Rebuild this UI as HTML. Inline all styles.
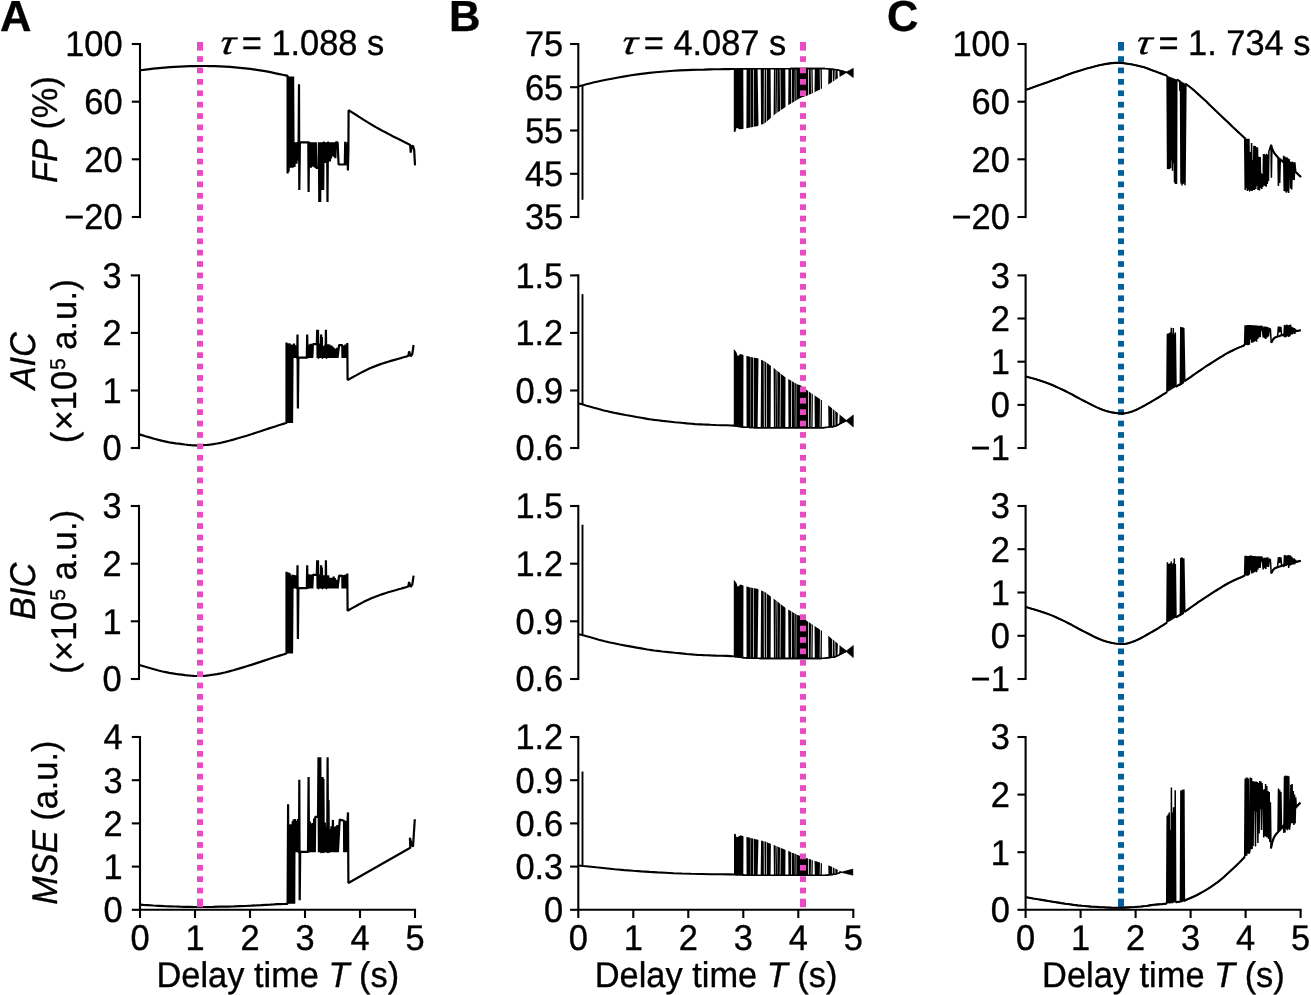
<!DOCTYPE html>
<html lang="en"><head><meta charset="utf-8"><title>Figure</title>
<style>html,body{margin:0;padding:0;background:#fff}svg{display:block}</style></head>
<body>
<svg width="1311" height="995" viewBox="0 0 1311 995" font-family="'Liberation Sans', sans-serif" font-size="34.4" fill="#000">
<style>text{text-rendering:geometricPrecision;stroke:#000;stroke-width:0.35px;stroke-linejoin:round}</style>
<rect width="1311" height="995" fill="#fff"/>
<g fill="#005f9e">
<rect x="1118" y="42" width="6" height="8.6"/>
<rect x="1118" y="56.2" width="6" height="5.7"/>
<rect x="1118" y="67.6" width="6" height="5.7"/>
<rect x="1118" y="79" width="6" height="5.7"/>
<rect x="1118" y="90.4" width="6" height="5.7"/>
<rect x="1118" y="101.8" width="6" height="5.7"/>
<rect x="1118" y="113.2" width="6" height="5.7"/>
<rect x="1118" y="124.5" width="6" height="5.7"/>
<rect x="1118" y="135.9" width="6" height="5.7"/>
<rect x="1118" y="147.3" width="6" height="5.7"/>
<rect x="1118" y="158.7" width="6" height="5.7"/>
<rect x="1118" y="170.1" width="6" height="5.7"/>
<rect x="1118" y="181.5" width="6" height="5.7"/>
<rect x="1118" y="192.9" width="6" height="5.7"/>
<rect x="1118" y="204.3" width="6" height="5.7"/>
<rect x="1118" y="215.7" width="6" height="5.7"/>
<rect x="1118" y="227.1" width="6" height="5.7"/>
<rect x="1118" y="238.4" width="6" height="5.7"/>
<rect x="1118" y="249.8" width="6" height="5.7"/>
<rect x="1118" y="261.2" width="6" height="5.7"/>
<rect x="1118" y="272.6" width="6" height="5.7"/>
<rect x="1118" y="284" width="6" height="5.7"/>
<rect x="1118" y="295.4" width="6" height="5.7"/>
<rect x="1118" y="306.8" width="6" height="5.7"/>
<rect x="1118" y="318.2" width="6" height="5.7"/>
<rect x="1118" y="329.6" width="6" height="5.7"/>
<rect x="1118" y="340.9" width="6" height="5.7"/>
<rect x="1118" y="352.3" width="6" height="5.7"/>
<rect x="1118" y="363.7" width="6" height="5.7"/>
<rect x="1118" y="375.1" width="6" height="5.7"/>
<rect x="1118" y="386.5" width="6" height="5.7"/>
<rect x="1118" y="397.9" width="6" height="5.7"/>
<rect x="1118" y="409.3" width="6" height="5.7"/>
<rect x="1118" y="420.7" width="6" height="5.7"/>
<rect x="1118" y="432.1" width="6" height="5.7"/>
<rect x="1118" y="443.5" width="6" height="5.7"/>
<rect x="1118" y="454.9" width="6" height="5.7"/>
<rect x="1118" y="466.2" width="6" height="5.7"/>
<rect x="1118" y="477.6" width="6" height="5.7"/>
<rect x="1118" y="489" width="6" height="5.7"/>
<rect x="1118" y="500.4" width="6" height="5.7"/>
<rect x="1118" y="511.8" width="6" height="5.7"/>
<rect x="1118" y="523.2" width="6" height="5.7"/>
<rect x="1118" y="534.6" width="6" height="5.7"/>
<rect x="1118" y="546" width="6" height="5.7"/>
<rect x="1118" y="557.4" width="6" height="5.7"/>
<rect x="1118" y="568.8" width="6" height="5.7"/>
<rect x="1118" y="580.1" width="6" height="5.7"/>
<rect x="1118" y="591.5" width="6" height="5.7"/>
<rect x="1118" y="602.9" width="6" height="5.7"/>
<rect x="1118" y="614.3" width="6" height="5.7"/>
<rect x="1118" y="625.7" width="6" height="5.7"/>
<rect x="1118" y="637.1" width="6" height="5.7"/>
<rect x="1118" y="648.5" width="6" height="5.7"/>
<rect x="1118" y="659.9" width="6" height="5.7"/>
<rect x="1118" y="671.3" width="6" height="5.7"/>
<rect x="1118" y="682.7" width="6" height="5.7"/>
<rect x="1118" y="694" width="6" height="5.7"/>
<rect x="1118" y="705.4" width="6" height="5.7"/>
<rect x="1118" y="716.8" width="6" height="5.7"/>
<rect x="1118" y="728.2" width="6" height="5.7"/>
<rect x="1118" y="739.6" width="6" height="5.7"/>
<rect x="1118" y="751" width="6" height="5.7"/>
<rect x="1118" y="762.4" width="6" height="5.7"/>
<rect x="1118" y="773.8" width="6" height="5.7"/>
<rect x="1118" y="785.2" width="6" height="5.7"/>
<rect x="1118" y="796.6" width="6" height="5.7"/>
<rect x="1118" y="807.9" width="6" height="5.7"/>
<rect x="1118" y="819.3" width="6" height="5.7"/>
<rect x="1118" y="830.7" width="6" height="5.7"/>
<rect x="1118" y="842.1" width="6" height="5.7"/>
<rect x="1118" y="853.5" width="6" height="5.7"/>
<rect x="1118" y="864.9" width="6" height="5.7"/>
<rect x="1118" y="876.3" width="6" height="5.7"/>
<rect x="1118" y="887.7" width="6" height="5.7"/>
<rect x="1118" y="898.7" width="6" height="8.5"/>
</g>
<g id="curves">
<path d="M140 70.1 L143.3 69.8 L147.8 69.3 L153.1 68.7 L158.9 68.1 L164.7 67.6 L170 67.2 L175 66.9 L180 66.6 L185 66.4 L190 66.2 L195 66.1 L200 66 L205 66 L210 66.1 L215 66.2 L220 66.3 L225 66.6 L230 66.9 L235 67.3 L240.1 67.8 L245.2 68.3 L250.2 68.9 L255.1 69.6 L260 70.3 L265.1 71.2 L270.4 72.2 L275.7 73.3 L280.5 74.3 L284.6 75.2 L287.6 75.8 L287.6 173.4 L288.1 76.5 L288.6 171.8 L289.1 76.5 L289.6 165.5 L290.1 76.5 L290.6 167.7 L291.1 76.5 L291.6 167.8 L292.1 76.5 L292.6 167.7 L293.1 76.5 L293.6 166.1 L294 142.3 L294.5 167 L295 142.3 L295.5 163.2 L296 142.3 L296.5 163.6 L297 142.3 L297.5 160.5 L298 142.3 L298.6 142.3 L299 84.2 L299.3 190 L299.9 142.3 L308.3 142.3 L308.6 192 L309 142.3 L309.2 142.3 L309.8 167.3 L310.3 142.3 L310.9 167.7 L311.4 142.3 L312 165.9 L312.5 142.3 L313.1 166.5 L313.6 142.3 L314.2 167 L314.7 142.3 L315.3 167.8 L315.8 142.3 L316.2 168 L318.5 168 L318.9 142.3 L319.3 202 L319.8 145 L320.2 202 L320.6 142.3 L321.2 165 L321.8 142.3 L322.2 190 L322.7 142.3 L323.2 190 L323.6 142.3 L324 142.3 L324.6 160.4 L325.1 142.3 L325.7 162.9 L326.2 142.3 L326.8 161.9 L327.1 142.3 L327.5 202 L327.9 142.3 L328.2 142.3 L328.8 157.4 L329.3 142.3 L329.9 161.4 L330.4 142.3 L331 158.4 L331.5 142.3 L332.1 156.1 L332.6 142.3 L333.2 153.6 L333.7 142.3 L334.3 157 L334.8 142.3 L335.4 158.1 L335.8 142.3 L337.6 142.3 L338.6 164.5 L344.8 164.5 L345.2 141.8 L345.6 164.5 L347.3 164.5 L347.5 142.3 L347.9 170.5 L348.4 150 L348.6 110.2 L351.3 111.9 L355.1 114.3 L359.5 117.1 L364.2 120.1 L368.7 122.9 L372.6 125.2 L375.8 127.1 L378.7 128.7 L381.4 130.2 L384 131.6 L386.7 133 L389.7 134.6 L393.2 136.4 L397 138.3 L401 140.3 L404.8 142.2 L407.9 143.8 L410.2 144.9 L410.7 152.6 L411.6 146.5 L413 145.7 L414.2 150 L415 165.4" fill="none" stroke="#000" stroke-width="2.2" stroke-linejoin="bevel" />
<path d="M139.3 434.4 L141.9 435.1 L145.4 436.2 L149.6 437.4 L154.1 438.7 L158.5 439.9 L162.4 440.9 L165.9 441.6 L169.2 442.3 L172.5 442.8 L175.6 443.3 L178.8 443.7 L181.9 444.1 L185 444.5 L187.9 444.8 L190.9 445.1 L193.8 445.3 L196.8 445.4 L200 445.4 L203.3 445.2 L206.5 445 L209.9 444.6 L213.4 444.1 L217 443.5 L220.8 442.8 L224.8 441.9 L229.1 440.8 L233.4 439.6 L237.9 438.3 L242.3 437 L246.7 435.7 L251.2 434.3 L255.8 432.8 L260.5 431.3 L264.9 429.8 L269.1 428.4 L272.7 427.2 L275.9 426.2 L278.7 425.3 L281.2 424.5 L283.4 423.9 L285.1 423.3 L286.5 422.9 L286.5 342.6 L287 423 L287.5 343.6 L288 423 L288.5 343.7 L289 423 L289.5 343.2 L290 423 L290.5 344.5 L291 423 L291.5 344.5 L292 423 L292.5 357.9 L293 344.8 L293.5 357.9 L294 343.6 L294.5 357.9 L295 345.3 L295.5 357.9 L296 345.8 L296.5 357.9 L297.2 357.6 L297.5 334.6 L297.9 408.5 L298.4 357.6 L306.8 357.6 L307.2 334.6 L307.6 357.6 L307.9 357.9 L308.4 345 L309 357.9 L309.6 344.6 L310.1 357.9 L310.7 343.9 L311.2 357.9 L311.8 345.2 L312.3 357.9 L312.9 344.1 L313.4 344.2 L316.8 344.2 L317.2 329.7 L317.6 357.9 L318 329.7 L318.4 357.9 L318.6 357.9 L319.2 343.6 L319.7 357.9 L320.3 343.6 L320.8 357.9 L321.1 334.6 L321.5 357.9 L321.9 337 L322.3 357.9 L322.5 357.9 L323.1 346.1 L323.6 357.9 L324.2 346.1 L324.7 357.9 L325.3 344.8 L325.6 357.9 L325.9 329.7 L326.3 357.9 L326.5 357.9 L327.1 347.4 L327.6 357.9 L328.2 344.2 L328.7 357.9 L329.3 344.6 L329.8 357.9 L330.4 345.9 L330.9 357.9 L331.5 345.5 L332 357.9 L332.6 346.7 L333.1 357.9 L333.7 347.8 L334.2 357.9 L334.8 348.8 L335.3 357.9 L335.9 349.1 L336.4 357.9 L337 347.9 L337.5 357.9 L339.1 345 L342.3 345.2 L342.5 357.9 L343.1 345.7 L343.6 357.9 L344.2 345.7 L344.7 357.9 L345.3 344.6 L345.8 357.9 L346.4 345.2 L346.9 357.9 L347.3 343 L347.6 380.1 L349.7 378.9 L352.6 377.3 L356.1 375.4 L359.7 373.4 L363.3 371.5 L366.5 369.9 L369.3 368.6 L372 367.4 L374.7 366.4 L377.3 365.4 L379.9 364.4 L382.5 363.5 L385.3 362.6 L388.1 361.7 L390.9 360.9 L393.7 360.1 L396.3 359.4 L398.6 358.7 L400.7 358.1 L402.7 357.5 L404.5 357 L406 356.6 L407.3 356.2 L408.3 355.9 L409.1 351.4 L410.7 356.3 L412.3 354 L413.6 345" fill="none" stroke="#000" stroke-width="2.2" stroke-linejoin="bevel" />
<path d="M139.3 665 L141.9 665.7 L145.4 666.8 L149.6 668 L154.1 669.3 L158.5 670.5 L162.4 671.5 L165.9 672.2 L169.2 672.9 L172.5 673.4 L175.6 673.9 L178.8 674.3 L181.9 674.7 L185 675.1 L187.9 675.4 L190.9 675.7 L193.8 675.9 L196.8 676 L200 676 L203.3 675.8 L206.5 675.6 L209.9 675.2 L213.4 674.7 L217 674.1 L220.8 673.4 L224.8 672.5 L229.1 671.4 L233.4 670.2 L237.9 668.9 L242.3 667.6 L246.7 666.3 L251.2 664.9 L255.8 663.4 L260.5 661.9 L264.9 660.4 L269.1 659 L272.7 657.8 L275.9 656.8 L278.7 655.9 L281.2 655.1 L283.4 654.5 L285.1 653.9 L286.5 653.5 L286.5 571.8 L287 653.6 L287.5 572.5 L288 653.6 L288.5 572.6 L289 653.6 L289.5 573.3 L290 653.6 L290.5 574.4 L291 653.6 L291.5 576.4 L292 653.6 L292.5 588.5 L293 574.7 L293.5 588.5 L294 575.1 L294.5 588.5 L295 576.5 L295.5 588.5 L296 575.4 L296.5 588.5 L297.2 588.2 L297.5 565.2 L297.9 639.1 L298.4 588.2 L306.8 588.2 L307.2 565.2 L307.6 588.2 L307.9 588.5 L308.4 574.4 L309 588.5 L309.6 574.8 L310.1 588.5 L310.7 574.5 L311.2 588.5 L311.8 576.2 L312.3 588.5 L312.9 574.5 L313.4 574.8 L316.8 574.8 L317.2 560.3 L317.6 588.5 L318 560.3 L318.4 588.5 L318.6 588.5 L319.2 574.2 L319.7 588.5 L320.3 574.2 L320.8 588.5 L321.1 565.2 L321.5 588.5 L321.9 567.6 L322.3 588.5 L322.5 588.5 L323.1 576.2 L323.6 588.5 L324.2 575.2 L324.7 588.5 L325.3 576.4 L325.6 588.5 L325.9 560.3 L326.3 588.5 L326.5 588.5 L327.1 577.5 L327.6 588.5 L328.2 575.2 L328.7 588.5 L329.3 578.4 L329.8 588.5 L330.4 577.8 L330.9 588.5 L331.5 578.1 L332 588.5 L332.6 577.7 L333.1 588.5 L333.7 576.5 L334.2 588.5 L334.8 578 L335.3 588.5 L335.9 580 L336.4 588.5 L337 579.7 L337.5 588.5 L339.1 575.6 L342.3 575.8 L342.5 588.5 L343.1 576.9 L343.6 588.5 L344.2 575.1 L344.7 588.5 L345.3 574.7 L345.8 588.5 L346.4 574.6 L346.9 588.5 L347.3 573.6 L347.6 610.7 L349.7 609.5 L352.6 607.9 L356.1 606 L359.7 604 L363.3 602.1 L366.5 600.5 L369.3 599.2 L372 598 L374.7 597 L377.3 596 L379.9 595 L382.5 594.1 L385.3 593.2 L388.1 592.3 L390.9 591.5 L393.7 590.7 L396.3 590 L398.6 589.3 L400.7 588.7 L402.7 588.1 L404.5 587.6 L406 587.2 L407.3 586.8 L408.3 586.5 L409.1 582 L410.7 586.9 L412.3 584.6 L413.6 575.6" fill="none" stroke="#000" stroke-width="2.2" stroke-linejoin="bevel" />
<path d="M140 904.7 L143.3 904.9 L147.8 905.1 L153.1 905.5 L158.9 905.8 L164.7 906.1 L170 906.3 L174.9 906.5 L179.6 906.7 L184.4 906.8 L189.3 906.9 L194.4 907 L200 907 L206.2 907 L213 906.9 L220 906.7 L227 906.6 L233.8 906.4 L240 906.2 L245.7 906 L251.2 905.7 L256.4 905.4 L261.3 905.1 L265.9 904.8 L270 904.6 L273.8 904.4 L277.3 904.2 L280.5 904.1 L283.2 904 L285.5 903.9 L287.2 903.8 L287.6 903.8 L288.1 804.3 L288.5 903.8 L288.7 825.2 L289.2 903.8 L289.7 824.4 L290.2 903.8 L290.7 824.3 L291.2 903.8 L291.7 824.3 L292.2 903.8 L292.7 821.2 L293.2 903.8 L293.7 819.4 L294.2 903.8 L294.4 852.2 L294.9 819.1 L295.4 852.2 L295.9 826.2 L296.4 852.2 L296.9 820.8 L297.4 852.2 L297.9 818.9 L298.4 852.2 L299 852 L299.3 779.8 L299.7 900.2 L300.2 851.9 L308 851.9 L308.6 777.1 L309 851.9 L309.2 852.2 L309.9 821.6 L310.6 852.2 L311.3 823.6 L312 852.2 L312.7 823.1 L313.4 852.2 L314.1 818.5 L314.8 852.2 L315.2 816.9 L318 816.9 L318.5 757.2 L318.9 852.2 L319.4 757.2 L319.8 852.2 L320.3 757.2 L320.7 852.2 L320.9 852.2 L321.4 819 L322 852.2 L322.2 852.2 L322.6 777 L323 852.2 L323.4 779 L323.8 852.2 L324 852.2 L324.8 822.5 L325.5 852.2 L326.2 826.6 L327 852.2 L327.2 852.2 L327.6 757.2 L328 852.2 L328.5 800 L328.9 852.2 L329.1 852.2 L329.9 829.2 L330.6 852.2 L331.4 826.3 L332.1 852.2 L332.9 819.9 L333.6 852.2 L334.4 827 L335.1 852.2 L335.9 826.4 L336.6 852.2 L337.4 825 L337.9 852.2 L339.7 819.6 L344 820.8 L344.2 852.2 L344.7 824 L345.2 852.2 L345.7 820.7 L346.2 852.2 L346.7 821.4 L347.2 852.2 L347.7 817.2 L348 812.4 L348.4 883 L410.3 847.7 L409.9 837.7 L411.2 843 L413 846.8 L414.8 819.3" fill="none" stroke="#000" stroke-width="2.2" stroke-linejoin="bevel" />
<path d="M582.5 85.3 L582.5 199.8" fill="none" stroke="#000" stroke-width="1.9" stroke-linejoin="bevel" />
<path d="M578.6 86.2 L583 85.2 L584.8 84.7 L587.1 84.1 L589.8 83.4 L593.1 82.6 L596.9 81.7 L601.2 80.8 L606.2 79.8 L611.9 78.7 L618.2 77.5 L624.7 76.4 L631.2 75.3 L637.4 74.4 L643.4 73.6 L649.4 72.9 L655.4 72.3 L661.5 71.7 L667.5 71.2 L673.5 70.8 L679.7 70.4 L686 70.1 L692.3 69.9 L698.5 69.7 L704.3 69.6 L709.7 69.4 L714.8 69.3 L719.7 69.2 L724.3 69.1 L728.4 69.1 L731.8 69 L734.3 69" fill="none" stroke="#000" stroke-width="2.1" stroke-linejoin="bevel" />
<path d="M734.6 69 L735.6 69 L736.6 69 L737.6 69 L738.6 69 L739.6 69 L740.6 69 L741.6 68.9 L742.6 68.9 L743.6 68.9 L744.6 68.9 L745.6 68.9 L746.6 68.9 L747.6 68.9 L748.6 68.9 L749.6 68.9 L750.6 68.9 L751.6 68.9 L752.6 68.9 L753.6 68.8 L754.6 68.8 L755.6 68.8 L756.6 68.8 L757.6 68.8 L758.6 68.8 L759.6 68.8 L760.6 68.8 L761.6 68.8 L762.6 68.8 L763.6 68.8 L764.6 68.8 L765.6 68.8 L766.6 68.8 L767.6 68.8 L768.6 68.8 L769.6 68.8 L770.6 68.7 L771.6 68.7 L772.6 68.7 L773.6 68.7 L774.6 68.7 L775.6 68.7 L776.6 68.7 L777.6 68.7 L778.6 68.7 L779.6 68.7 L780.6 68.7 L781.6 68.7 L782.6 68.7 L783.6 68.7 L784.6 68.7 L785.6 68.7 L786.6 68.7 L787.6 68.7 L788.6 68.7 L789.6 68.7 L790.6 68.6 L791.6 68.6 L792.6 68.6 L793.6 68.6 L794.6 68.6 L795.6 68.6 L796.6 68.6 L797.6 68.6 L798.6 68.6 L799.6 68.6 L800.6 68.6 L801.6 68.6 L802.6 68.6 L803.6 68.6 L804.6 68.6 L805.6 68.6 L806.6 68.6 L807.6 68.6 L808.6 68.6 L809.6 68.6 L810.6 68.6 L811.6 68.6 L812.6 68.6 L813.6 68.6 L814.6 68.6 L815.6 68.6 L816.6 68.6 L817.6 68.6 L818.6 68.6 L819.6 68.6 L820.6 68.6 L821.6 68.6 L822.6 68.6 L823.6 68.6 L824.6 68.6 L825.6 68.7 L826.6 68.8 L827.6 68.9 L828.6 69 L829.6 69.1 L830.6 69.2 L831.6 69.3 L832.6 69.4 L833.6 69.5 L834.6 69.6 L835.6 69.7 L836.6 69.8 L837.6 70 L838.6 70.2 L839.6 70.5 L840.6 70.8 L841.6 71 L842.6 71.3 L843.6 71.6 L844.6 71.9 L845.6 72.2 L845.9 72.3 L845.9 72.3 L845.6 72.5 L844.6 73.1 L843.6 73.6 L842.6 74.2 L841.6 74.8 L840.6 75.4 L839.6 76 L838.6 76.7 L837.6 77.4 L836.6 78 L835.6 78.7 L834.6 79.4 L833.6 80.1 L832.6 80.7 L831.6 81.4 L830.6 82.1 L829.6 82.7 L828.6 83.4 L827.6 84 L826.6 84.7 L825.6 85.3 L824.6 86 L823.6 86.6 L822.6 87.3 L821.6 87.9 L820.6 88.4 L819.6 88.9 L818.6 89.3 L817.6 89.8 L816.6 90.3 L815.6 90.8 L814.6 91.2 L813.6 91.7 L812.6 92.2 L811.6 92.7 L810.6 93.2 L809.6 93.6 L808.6 94.1 L807.6 94.5 L806.6 94.9 L805.6 95.2 L804.6 95.6 L803.6 95.9 L802.6 96.3 L801.6 96.6 L800.6 97 L799.6 97.4 L798.6 98 L797.6 98.6 L796.6 99.2 L795.6 99.8 L794.6 100.4 L793.6 101 L792.6 101.6 L791.6 102.2 L790.6 102.8 L789.6 103.4 L788.6 104 L787.6 104.6 L786.6 105.2 L785.6 105.9 L784.6 106.6 L783.6 107.3 L782.6 108 L781.6 108.7 L780.6 109.4 L779.6 110.1 L778.6 110.8 L777.6 111.4 L776.6 112.1 L775.6 112.8 L774.6 113.5 L773.6 114.2 L772.6 115.1 L771.6 116 L770.6 116.9 L769.6 117.9 L768.6 118.8 L767.6 119.7 L766.6 120.6 L765.6 121.5 L764.6 122.4 L763.6 123 L762.6 123.3 L761.6 123.7 L760.6 124.1 L759.6 124.4 L758.6 124.8 L757.6 125.2 L756.6 125.4 L755.6 125.6 L754.6 125.8 L753.6 126 L752.6 126.2 L751.6 126.4 L750.6 126.6 L749.6 126.8 L748.6 127 L747.6 127.2 L746.6 127.4 L745.6 127.5 L744.6 127.7 L743.6 127.9 L742.6 128.1 L741.6 128.3 L740.6 128.5 L739.6 128.5 L738.6 127.9 L737.6 127.4 L736.6 126.8 L735.6 128 L734.6 131.7Z" fill="#000" stroke="#000" stroke-width="1.6" stroke-linejoin="miter"/>
<path d="M845.9 72.3 L853.3 77.5 L853.3 68.3Z" fill="#000" stroke="#000" stroke-width="0.6" stroke-linejoin="miter"/>
<path d="M743.3 68.9 L746.6 68.9 L746.4 129 L743.5 129.6Z M750.4 68.9 L750.7 68.9 L751.1 128.2 L750.7 128.2Z M753.2 68.9 L753.9 68.8 L753.6 127.5 L753 127.7Z M757.6 68.8 L760.7 68.8 L761.1 125.6 L758.5 126.8Z M763.9 68.8 L764.7 68.8 L764.4 124 L763.7 124.4Z M766 68.8 L766.7 68.8 L767 122.1 L766.4 122.7Z M770.6 68.7 L773.9 68.7 L773.6 115.6 L770.9 118.5Z M775.5 68.7 L775.9 68.7 L776.3 114.2 L775.8 114.5Z M777.2 68.7 L777.5 68.7 L777.3 113.1 L776.9 113.3Z M779.7 68.7 L780.4 68.7 L780.7 111.1 L780.1 111.6Z M785.3 68.7 L788.5 68.7 L788.2 105.7 L785.5 107.7Z M791 68.6 L791.8 68.6 L792.1 103.7 L791.4 104.1Z M794.9 68.6 L795.3 68.6 L795.1 101.5 L794.6 101.8Z M796.4 68.6 L796.7 68.6 L797.1 100.7 L796.7 100.9Z M808.3 68.6 L809.1 68.6 L808.8 95.5 L808.1 95.8Z M810.7 68.6 L811.3 68.6 L811.6 94.4 L811.1 94.7Z M812.6 68.6 L814.8 68.6 L814.5 92.7 L812.9 93.8Z M819.7 68.6 L820.4 68.6 L820.8 90 L820 90.4Z M821.8 68.6 L828.5 69 L828.2 85 L822 89.4Z M832 69.3 L832.7 69.4 L833.1 82.2 L832.3 82.8Z M834.7 69.6 L835.5 69.7 L835.2 80.4 L834.5 80.9Z M837.5 69.9 L839.3 70.4 L839.6 77.8 L837.9 79Z" fill="#fff"/>
<path d="M734.6 69 L735.6 69 L736.6 69 L737.6 69 L738.6 69 L739.6 69 L740.6 69 L741.6 68.9 L742.6 68.9 L743.6 68.9 L744.6 68.9 L745.6 68.9 L746.6 68.9 L747.6 68.9 L748.6 68.9 L749.6 68.9 L750.6 68.9 L751.6 68.9 L752.6 68.9 L753.6 68.8 L754.6 68.8 L755.6 68.8 L756.6 68.8 L757.6 68.8 L758.6 68.8 L759.6 68.8 L760.6 68.8 L761.6 68.8 L762.6 68.8 L763.6 68.8 L764.6 68.8 L765.6 68.8 L766.6 68.8 L767.6 68.8 L768.6 68.8 L769.6 68.8 L770.6 68.7 L771.6 68.7 L772.6 68.7 L773.6 68.7 L774.6 68.7 L775.6 68.7 L776.6 68.7 L777.6 68.7 L778.6 68.7 L779.6 68.7 L780.6 68.7 L781.6 68.7 L782.6 68.7 L783.6 68.7 L784.6 68.7 L785.6 68.7 L786.6 68.7 L787.6 68.7 L788.6 68.7 L789.6 68.7 L790.6 68.6 L791.6 68.6 L792.6 68.6 L793.6 68.6 L794.6 68.6 L795.6 68.6 L796.6 68.6 L797.6 68.6 L798.6 68.6 L799.6 68.6 L800.6 68.6 L801.6 68.6 L802.6 68.6 L803.6 68.6 L804.6 68.6 L805.6 68.6 L806.6 68.6 L807.6 68.6 L808.6 68.6 L809.6 68.6 L810.6 68.6 L811.6 68.6 L812.6 68.6 L813.6 68.6 L814.6 68.6 L815.6 68.6 L816.6 68.6 L817.6 68.6 L818.6 68.6 L819.6 68.6 L820.6 68.6 L821.6 68.6 L822.6 68.6 L823.6 68.6 L824.6 68.6 L825.6 68.7 L826.6 68.8 L827.6 68.9 L828.6 69 L829.6 69.1 L830.6 69.2 L831.6 69.3 L832.6 69.4 L833.6 69.5 L834.6 69.6 L835.6 69.7 L836.6 69.8 L837.6 70 L838.6 70.2 L839.6 70.5 L840.6 70.8 L841.6 71 L842.6 71.3 L843.6 71.6 L844.6 71.9 L845.6 72.2 L845.9 72.3" fill="none" stroke="#000" stroke-width="1.6" stroke-linejoin="bevel" />
<path d="M582.5 404.5 L582.5 294.1" fill="none" stroke="#000" stroke-width="1.9" stroke-linejoin="bevel" />
<path d="M579 403.6 L583.1 404.6 L585.8 405.4 L589.5 406.4 L593.9 407.7 L598.8 409.1 L603.8 410.4 L608.8 411.6 L614 412.7 L619.7 413.9 L625.6 415 L631.4 416 L636.7 417 L641.3 417.8 L644.7 418.4 L647.3 418.9 L649.4 419.2 L651.4 419.5 L654 419.9 L657.6 420.3 L662.5 420.9 L668.4 421.5 L674.8 422.2 L681.1 422.8 L686.9 423.4 L691.7 423.8 L695.1 424.1 L697.5 424.3 L699.4 424.4 L701.2 424.4 L703.4 424.5 L706.4 424.6 L710.6 424.8 L715.8 425 L721.3 425.2 L726.6 425.3 L731.1 425.5 L734.3 425.6" fill="none" stroke="#000" stroke-width="2.1" stroke-linejoin="bevel" />
<path d="M734.6 425.8 L735.6 426 L736.6 426.1 L737.6 426.2 L738.6 426.4 L739.6 426.5 L740.6 426.6 L741.6 426.8 L742.6 426.9 L743.6 427 L744.6 427.1 L745.6 427.2 L746.6 427.3 L747.6 427.3 L748.6 427.3 L749.6 427.4 L750.6 427.4 L751.6 427.5 L752.6 427.5 L753.6 427.5 L754.6 427.6 L755.6 427.6 L756.6 427.7 L757.6 427.7 L758.6 427.7 L759.6 427.8 L760.6 427.8 L761.6 427.8 L762.6 427.8 L763.6 427.8 L764.6 427.8 L765.6 427.8 L766.6 427.8 L767.6 427.8 L768.6 427.8 L769.6 427.8 L770.6 427.8 L771.6 427.8 L772.6 427.8 L773.6 427.8 L774.6 427.8 L775.6 427.8 L776.6 427.8 L777.6 427.8 L778.6 427.8 L779.6 427.8 L780.6 427.8 L781.6 427.8 L782.6 427.8 L783.6 427.8 L784.6 427.8 L785.6 427.8 L786.6 427.8 L787.6 427.8 L788.6 427.8 L789.6 427.8 L790.6 427.8 L791.6 427.8 L792.6 427.8 L793.6 427.8 L794.6 427.8 L795.6 427.8 L796.6 427.8 L797.6 427.8 L798.6 427.8 L799.6 427.8 L800.6 427.8 L801.6 427.8 L802.6 427.8 L803.6 427.8 L804.6 427.8 L805.6 427.8 L806.6 427.8 L807.6 427.8 L808.6 427.8 L809.6 427.8 L810.6 427.8 L811.6 427.8 L812.6 427.8 L813.6 427.8 L814.6 427.8 L815.6 427.8 L816.6 427.8 L817.6 427.8 L818.6 427.8 L819.6 427.8 L820.6 427.8 L821.6 427.8 L822.6 427.7 L823.6 427.6 L824.6 427.5 L825.6 427.4 L826.6 427.3 L827.6 427.2 L828.6 427 L829.6 426.9 L830.6 426.8 L831.6 426.7 L832.6 426.6 L833.6 426.5 L834.6 426.3 L835.6 426 L836.6 425.5 L837.6 425 L838.6 424.5 L839.6 423.9 L840.6 423.4 L841.6 422.9 L842.6 422.4 L843.6 421.9 L844.6 421.4 L845.6 420.9 L845.9 420.7 L845.9 420.7 L845.6 420.5 L844.6 419.6 L843.6 418.8 L842.6 418 L841.6 417.2 L840.6 416.4 L839.6 415.5 L838.6 414.7 L837.6 413.9 L836.6 413.1 L835.6 412.3 L834.6 411.4 L833.6 410.6 L832.6 409.8 L831.6 409 L830.6 408.2 L829.6 407.3 L828.6 406.6 L827.6 405.8 L826.6 405 L825.6 404.2 L824.6 403.4 L823.6 402.6 L822.6 401.8 L821.6 401.1 L820.6 400.4 L819.6 399.7 L818.6 399.1 L817.6 398.4 L816.6 397.7 L815.6 397.1 L814.6 396.4 L813.6 395.7 L812.6 395.1 L811.6 394.4 L810.6 393.7 L809.6 393.1 L808.6 392.4 L807.6 391.7 L806.6 391 L805.6 390.2 L804.6 389.5 L803.6 388.8 L802.6 388 L801.6 387.3 L800.6 386.5 L799.6 385.8 L798.6 385.5 L797.6 385.2 L796.6 384.8 L795.6 384.3 L794.6 383.7 L793.6 383.1 L792.6 382.5 L791.6 381.9 L790.6 381.3 L789.6 380.7 L788.6 380.1 L787.6 379.6 L786.6 379 L785.6 378.4 L784.6 377.6 L783.6 376.9 L782.6 376.1 L781.6 375.3 L780.6 374.5 L779.6 373.7 L778.6 372.9 L777.6 372.1 L776.6 371.3 L775.6 370.5 L774.6 369.7 L773.6 369 L772.6 368.2 L771.6 367.5 L770.6 366.7 L769.6 366 L768.6 365.2 L767.6 364.5 L766.6 363.7 L765.6 363 L764.6 362.2 L763.6 361.7 L762.6 361.3 L761.6 360.8 L760.6 360.4 L759.6 360 L758.6 359.5 L757.6 359.1 L756.6 358.9 L755.6 358.7 L754.6 358.5 L753.6 358.4 L752.6 358.2 L751.6 358 L750.6 357.8 L749.6 357.6 L748.6 357.3 L747.6 357 L746.6 356.7 L745.6 356.4 L744.6 356.1 L743.6 355.8 L742.6 355.5 L741.6 355.2 L740.6 354.9 L739.6 355.7 L738.6 356.8 L737.6 358 L736.6 355.4 L735.6 352.5 L734.6 351.3Z" fill="#000" stroke="#000" stroke-width="1.6" stroke-linejoin="miter"/>
<path d="M845.9 420.7 L853.3 414.9 L853.3 427Z" fill="#000" stroke="#000" stroke-width="0.6" stroke-linejoin="miter"/>
<path d="M743.3 427 L746.6 427.3 L746.4 355.1 L743.5 354.1Z M750.4 427.4 L750.7 427.4 L751.1 356.2 L750.7 356.2Z M753.2 427.5 L753.9 427.6 L753.6 356.8 L753 356.7Z M757.6 427.7 L760.7 427.8 L761.1 358.8 L758.5 357.5Z M763.9 427.8 L764.7 427.8 L764.4 360.7 L763.7 360.2Z M766 427.8 L766.7 427.8 L767 362.2 L766.4 361.7Z M770.6 427.8 L773.9 427.8 L773.6 367.6 L770.9 365.1Z M775.5 427.8 L775.9 427.8 L776.3 369.2 L775.8 368.8Z M777.2 427.8 L777.5 427.8 L777.3 370.5 L776.9 370.2Z M779.7 427.8 L780.4 427.8 L780.7 372.7 L780.1 372.2Z M785.3 427.8 L788.5 427.8 L788.2 378.5 L785.5 376.6Z M791 427.8 L791.8 427.8 L792.1 380.4 L791.4 380Z M794.9 427.8 L795.3 427.8 L795.1 382.5 L794.6 382.2Z M796.4 427.8 L796.7 427.8 L797.1 383.3 L796.7 383.1Z M808.3 427.8 L809.1 427.8 L808.8 391.1 L808.1 390.6Z M810.7 427.8 L811.3 427.8 L811.6 392.6 L811.1 392.2Z M812.6 427.8 L814.8 427.8 L814.5 394.9 L812.9 393.5Z M819.7 427.8 L820.4 427.8 L820.8 398.7 L820 398.2Z M821.8 427.8 L828.5 427.1 L828.2 404.9 L822 399.6Z M832 426.7 L832.7 426.6 L833.1 408.3 L832.3 407.7Z M834.7 426.3 L835.5 426.1 L835.2 410.5 L834.5 410Z M837.5 425 L839.3 424.1 L839.6 413.7 L837.9 412.2Z" fill="#fff"/>
<path d="M734.6 425.8 L735.6 426 L736.6 426.1 L737.6 426.2 L738.6 426.4 L739.6 426.5 L740.6 426.6 L741.6 426.8 L742.6 426.9 L743.6 427 L744.6 427.1 L745.6 427.2 L746.6 427.3 L747.6 427.3 L748.6 427.3 L749.6 427.4 L750.6 427.4 L751.6 427.5 L752.6 427.5 L753.6 427.5 L754.6 427.6 L755.6 427.6 L756.6 427.7 L757.6 427.7 L758.6 427.7 L759.6 427.8 L760.6 427.8 L761.6 427.8 L762.6 427.8 L763.6 427.8 L764.6 427.8 L765.6 427.8 L766.6 427.8 L767.6 427.8 L768.6 427.8 L769.6 427.8 L770.6 427.8 L771.6 427.8 L772.6 427.8 L773.6 427.8 L774.6 427.8 L775.6 427.8 L776.6 427.8 L777.6 427.8 L778.6 427.8 L779.6 427.8 L780.6 427.8 L781.6 427.8 L782.6 427.8 L783.6 427.8 L784.6 427.8 L785.6 427.8 L786.6 427.8 L787.6 427.8 L788.6 427.8 L789.6 427.8 L790.6 427.8 L791.6 427.8 L792.6 427.8 L793.6 427.8 L794.6 427.8 L795.6 427.8 L796.6 427.8 L797.6 427.8 L798.6 427.8 L799.6 427.8 L800.6 427.8 L801.6 427.8 L802.6 427.8 L803.6 427.8 L804.6 427.8 L805.6 427.8 L806.6 427.8 L807.6 427.8 L808.6 427.8 L809.6 427.8 L810.6 427.8 L811.6 427.8 L812.6 427.8 L813.6 427.8 L814.6 427.8 L815.6 427.8 L816.6 427.8 L817.6 427.8 L818.6 427.8 L819.6 427.8 L820.6 427.8 L821.6 427.8 L822.6 427.7 L823.6 427.6 L824.6 427.5 L825.6 427.4 L826.6 427.3 L827.6 427.2 L828.6 427 L829.6 426.9 L830.6 426.8 L831.6 426.7 L832.6 426.6 L833.6 426.5 L834.6 426.3 L835.6 426 L836.6 425.5 L837.6 425 L838.6 424.5 L839.6 423.9 L840.6 423.4 L841.6 422.9 L842.6 422.4 L843.6 421.9 L844.6 421.4 L845.6 420.9 L845.9 420.7" fill="none" stroke="#000" stroke-width="1.6" stroke-linejoin="bevel" />
<path d="M582.5 635.1 L582.5 524.7" fill="none" stroke="#000" stroke-width="1.9" stroke-linejoin="bevel" />
<path d="M579 634.2 L583.1 635.2 L585.8 636 L589.5 637 L593.9 638.3 L598.8 639.7 L603.8 641 L608.8 642.2 L614 643.3 L619.7 644.5 L625.6 645.6 L631.4 646.6 L636.7 647.6 L641.3 648.4 L644.7 649 L647.3 649.5 L649.4 649.8 L651.4 650.1 L654 650.5 L657.6 650.9 L662.5 651.5 L668.4 652.1 L674.8 652.8 L681.1 653.4 L686.9 654 L691.7 654.4 L695.1 654.7 L697.5 654.9 L699.4 655 L701.2 655 L703.4 655.1 L706.4 655.2 L710.6 655.4 L715.8 655.6 L721.3 655.8 L726.6 655.9 L731.1 656.1 L734.3 656.2" fill="none" stroke="#000" stroke-width="2.1" stroke-linejoin="bevel" />
<path d="M734.6 656.4 L735.6 656.6 L736.6 656.7 L737.6 656.8 L738.6 657 L739.6 657.1 L740.6 657.2 L741.6 657.4 L742.6 657.5 L743.6 657.6 L744.6 657.7 L745.6 657.8 L746.6 657.9 L747.6 657.9 L748.6 657.9 L749.6 658 L750.6 658 L751.6 658.1 L752.6 658.1 L753.6 658.1 L754.6 658.2 L755.6 658.2 L756.6 658.3 L757.6 658.3 L758.6 658.3 L759.6 658.4 L760.6 658.4 L761.6 658.4 L762.6 658.4 L763.6 658.4 L764.6 658.4 L765.6 658.4 L766.6 658.4 L767.6 658.4 L768.6 658.4 L769.6 658.4 L770.6 658.4 L771.6 658.4 L772.6 658.4 L773.6 658.4 L774.6 658.4 L775.6 658.4 L776.6 658.4 L777.6 658.4 L778.6 658.4 L779.6 658.4 L780.6 658.4 L781.6 658.4 L782.6 658.4 L783.6 658.4 L784.6 658.4 L785.6 658.4 L786.6 658.4 L787.6 658.4 L788.6 658.4 L789.6 658.4 L790.6 658.4 L791.6 658.4 L792.6 658.4 L793.6 658.4 L794.6 658.4 L795.6 658.4 L796.6 658.4 L797.6 658.4 L798.6 658.4 L799.6 658.4 L800.6 658.4 L801.6 658.4 L802.6 658.4 L803.6 658.4 L804.6 658.4 L805.6 658.4 L806.6 658.4 L807.6 658.4 L808.6 658.4 L809.6 658.4 L810.6 658.4 L811.6 658.4 L812.6 658.4 L813.6 658.4 L814.6 658.4 L815.6 658.4 L816.6 658.4 L817.6 658.4 L818.6 658.4 L819.6 658.4 L820.6 658.4 L821.6 658.4 L822.6 658.3 L823.6 658.2 L824.6 658.1 L825.6 658 L826.6 657.9 L827.6 657.8 L828.6 657.6 L829.6 657.5 L830.6 657.4 L831.6 657.3 L832.6 657.2 L833.6 657.1 L834.6 656.9 L835.6 656.6 L836.6 656.1 L837.6 655.6 L838.6 655.1 L839.6 654.5 L840.6 654 L841.6 653.5 L842.6 653 L843.6 652.5 L844.6 652 L845.6 651.5 L845.9 651.3 L845.9 651.3 L845.6 651.1 L844.6 650.2 L843.6 649.4 L842.6 648.6 L841.6 647.8 L840.6 647 L839.6 646.1 L838.6 645.3 L837.6 644.5 L836.6 643.7 L835.6 642.9 L834.6 642 L833.6 641.2 L832.6 640.4 L831.6 639.6 L830.6 638.8 L829.6 637.9 L828.6 637.2 L827.6 636.4 L826.6 635.6 L825.6 634.8 L824.6 634 L823.6 633.2 L822.6 632.4 L821.6 631.7 L820.6 631 L819.6 630.3 L818.6 629.7 L817.6 629 L816.6 628.3 L815.6 627.7 L814.6 627 L813.6 626.3 L812.6 625.7 L811.6 625 L810.6 624.3 L809.6 623.7 L808.6 623 L807.6 622.3 L806.6 621.6 L805.6 620.8 L804.6 620.1 L803.6 619.4 L802.6 618.6 L801.6 617.9 L800.6 617.1 L799.6 616.4 L798.6 616.1 L797.6 615.8 L796.6 615.4 L795.6 614.9 L794.6 614.3 L793.6 613.7 L792.6 613.1 L791.6 612.5 L790.6 611.9 L789.6 611.3 L788.6 610.7 L787.6 610.2 L786.6 609.6 L785.6 609 L784.6 608.2 L783.6 607.5 L782.6 606.7 L781.6 605.9 L780.6 605.1 L779.6 604.3 L778.6 603.5 L777.6 602.7 L776.6 601.9 L775.6 601.1 L774.6 600.3 L773.6 599.6 L772.6 598.8 L771.6 598.1 L770.6 597.3 L769.6 596.6 L768.6 595.8 L767.6 595.1 L766.6 594.3 L765.6 593.6 L764.6 592.8 L763.6 592.3 L762.6 591.9 L761.6 591.4 L760.6 591 L759.6 590.6 L758.6 590.1 L757.6 589.7 L756.6 589.5 L755.6 589.3 L754.6 589.1 L753.6 589 L752.6 588.8 L751.6 588.6 L750.6 588.4 L749.6 588.2 L748.6 587.9 L747.6 587.6 L746.6 587.3 L745.6 587 L744.6 586.7 L743.6 586.4 L742.6 586.1 L741.6 585.8 L740.6 585.5 L739.6 586.3 L738.6 587.4 L737.6 588.6 L736.6 586 L735.6 583.1 L734.6 581.9Z" fill="#000" stroke="#000" stroke-width="1.6" stroke-linejoin="miter"/>
<path d="M845.9 651.3 L853.3 645.5 L853.3 657.6Z" fill="#000" stroke="#000" stroke-width="0.6" stroke-linejoin="miter"/>
<path d="M743.3 657.6 L746.6 657.9 L746.4 585.7 L743.5 584.7Z M750.4 658 L750.7 658 L751.1 586.8 L750.7 586.8Z M753.2 658.1 L753.9 658.2 L753.6 587.4 L753 587.3Z M757.6 658.3 L760.7 658.4 L761.1 589.4 L758.5 588.1Z M763.9 658.4 L764.7 658.4 L764.4 591.3 L763.7 590.8Z M766 658.4 L766.7 658.4 L767 592.8 L766.4 592.3Z M770.6 658.4 L773.9 658.4 L773.6 598.2 L770.9 595.7Z M775.5 658.4 L775.9 658.4 L776.3 599.8 L775.8 599.4Z M777.2 658.4 L777.5 658.4 L777.3 601.1 L776.9 600.8Z M779.7 658.4 L780.4 658.4 L780.7 603.3 L780.1 602.8Z M785.3 658.4 L788.5 658.4 L788.2 609.1 L785.5 607.2Z M791 658.4 L791.8 658.4 L792.1 611 L791.4 610.6Z M794.9 658.4 L795.3 658.4 L795.1 613.1 L794.6 612.8Z M796.4 658.4 L796.7 658.4 L797.1 613.9 L796.7 613.7Z M808.3 658.4 L809.1 658.4 L808.8 621.7 L808.1 621.2Z M810.7 658.4 L811.3 658.4 L811.6 623.2 L811.1 622.8Z M812.6 658.4 L814.8 658.4 L814.5 625.5 L812.9 624.1Z M819.7 658.4 L820.4 658.4 L820.8 629.3 L820 628.8Z M821.8 658.4 L828.5 657.6 L828.2 635.5 L822 630.2Z M832 657.3 L832.7 657.2 L833.1 638.9 L832.3 638.3Z M834.7 656.9 L835.5 656.7 L835.2 641.1 L834.5 640.6Z M837.5 655.6 L839.3 654.7 L839.6 644.3 L837.9 642.8Z" fill="#fff"/>
<path d="M734.6 656.4 L735.6 656.6 L736.6 656.7 L737.6 656.8 L738.6 657 L739.6 657.1 L740.6 657.2 L741.6 657.4 L742.6 657.5 L743.6 657.6 L744.6 657.7 L745.6 657.8 L746.6 657.9 L747.6 657.9 L748.6 657.9 L749.6 658 L750.6 658 L751.6 658.1 L752.6 658.1 L753.6 658.1 L754.6 658.2 L755.6 658.2 L756.6 658.3 L757.6 658.3 L758.6 658.3 L759.6 658.4 L760.6 658.4 L761.6 658.4 L762.6 658.4 L763.6 658.4 L764.6 658.4 L765.6 658.4 L766.6 658.4 L767.6 658.4 L768.6 658.4 L769.6 658.4 L770.6 658.4 L771.6 658.4 L772.6 658.4 L773.6 658.4 L774.6 658.4 L775.6 658.4 L776.6 658.4 L777.6 658.4 L778.6 658.4 L779.6 658.4 L780.6 658.4 L781.6 658.4 L782.6 658.4 L783.6 658.4 L784.6 658.4 L785.6 658.4 L786.6 658.4 L787.6 658.4 L788.6 658.4 L789.6 658.4 L790.6 658.4 L791.6 658.4 L792.6 658.4 L793.6 658.4 L794.6 658.4 L795.6 658.4 L796.6 658.4 L797.6 658.4 L798.6 658.4 L799.6 658.4 L800.6 658.4 L801.6 658.4 L802.6 658.4 L803.6 658.4 L804.6 658.4 L805.6 658.4 L806.6 658.4 L807.6 658.4 L808.6 658.4 L809.6 658.4 L810.6 658.4 L811.6 658.4 L812.6 658.4 L813.6 658.4 L814.6 658.4 L815.6 658.4 L816.6 658.4 L817.6 658.4 L818.6 658.4 L819.6 658.4 L820.6 658.4 L821.6 658.4 L822.6 658.3 L823.6 658.2 L824.6 658.1 L825.6 658 L826.6 657.9 L827.6 657.8 L828.6 657.6 L829.6 657.5 L830.6 657.4 L831.6 657.3 L832.6 657.2 L833.6 657.1 L834.6 656.9 L835.6 656.6 L836.6 656.1 L837.6 655.6 L838.6 655.1 L839.6 654.5 L840.6 654 L841.6 653.5 L842.6 653 L843.6 652.5 L844.6 652 L845.6 651.5 L845.9 651.3" fill="none" stroke="#000" stroke-width="1.6" stroke-linejoin="bevel" />
<path d="M582.5 866 L582.5 771.5" fill="none" stroke="#000" stroke-width="1.9" stroke-linejoin="bevel" />
<path d="M578.3 865.5 L583.1 866 L588.6 866.5 L596.1 867.3 L605.1 868.2 L614.7 869.2 L624.3 870.1 L633.2 870.8 L641.4 871.4 L649.4 871.9 L657.5 872.4 L665.5 872.8 L673.7 873.2 L682 873.5 L691.1 873.8 L701.2 874 L711.3 874.2 L720.8 874.3 L728.7 874.4 L734.5 874.5" fill="none" stroke="#000" stroke-width="2.1" stroke-linejoin="bevel" />
<path d="M734.8 874.5 L735.8 874.6 L736.8 874.6 L737.8 874.6 L738.8 874.7 L739.8 874.7 L740.8 874.8 L741.8 874.8 L742.8 874.9 L743.8 874.9 L744.8 875 L745.8 875 L746.8 875.1 L747.8 875.1 L748.8 875.1 L749.8 875.2 L750.8 875.2 L751.8 875.2 L752.8 875.2 L753.8 875.2 L754.8 875.2 L755.8 875.2 L756.8 875.2 L757.8 875.2 L758.8 875.2 L759.8 875.2 L760.8 875.2 L761.8 875.2 L762.8 875.2 L763.8 875.2 L764.8 875.2 L765.8 875.2 L766.8 875.2 L767.8 875.2 L768.8 875.2 L769.8 875.2 L770.8 875.2 L771.8 875.2 L772.8 875.2 L773.8 875.2 L774.8 875.2 L775.8 875.2 L776.8 875.2 L777.8 875.2 L778.8 875.2 L779.8 875.2 L780.8 875.2 L781.8 875.2 L782.8 875.2 L783.8 875.2 L784.8 875.2 L785.8 875.2 L786.8 875.2 L787.8 875.2 L788.8 875.2 L789.8 875.2 L790.8 875.2 L791.8 875.2 L792.8 875.2 L793.8 875.2 L794.8 875.2 L795.8 875.2 L796.8 875.2 L797.8 875.2 L798.8 875.2 L799.8 875.2 L800.8 875.2 L801.8 875.2 L802.8 875.2 L803.8 875.2 L804.8 875.2 L805.8 875.2 L806.8 875.2 L807.8 875.2 L808.8 875.2 L809.8 875.2 L810.8 875.2 L811.8 875.2 L812.8 875.2 L813.8 875.2 L814.8 875.2 L815.8 875.2 L816.8 875.2 L817.8 875.2 L818.8 875.2 L819.8 875.2 L820.8 875.2 L821.8 875.2 L822.8 875.2 L823.8 875.2 L824.8 875.2 L825.8 875.1 L826.8 875 L827.8 874.9 L828.8 874.8 L829.8 874.7 L830.8 874.6 L831.8 874.5 L832.8 874.4 L833.8 874.3 L834.8 874.2 L835.8 873.9 L836.8 873.6 L837.8 873.3 L838.8 872.9 L839.8 872.6 L840.7 872.3 L840.7 872.3 L839.8 871.8 L838.8 871.3 L837.8 870.8 L836.8 870.3 L835.8 869.8 L834.8 869.3 L833.8 868.8 L832.8 868.3 L831.8 867.8 L830.8 867.3 L829.8 866.8 L828.8 866.4 L827.8 866.1 L826.8 865.7 L825.8 865.4 L824.8 865 L823.8 864.7 L822.8 864.3 L821.8 864 L820.8 863.7 L819.8 863.3 L818.8 863 L817.8 862.7 L816.8 862.3 L815.8 862 L814.8 861.7 L813.8 861.3 L812.8 861 L811.8 860.7 L810.8 860.3 L809.8 860 L808.8 859.7 L807.8 859.4 L806.8 859 L805.8 858.7 L804.8 858.4 L803.8 858 L802.8 857.7 L801.8 857.4 L800.8 857 L799.8 856.7 L798.8 856.2 L797.8 855.8 L796.8 855.4 L795.8 855 L794.8 854.6 L793.8 854.2 L792.8 853.8 L791.8 853.4 L790.8 852.9 L789.8 852.5 L788.8 852.1 L787.8 851.7 L786.8 851.3 L785.8 850.9 L784.8 850.5 L783.8 850.1 L782.8 849.6 L781.8 849.2 L780.8 848.8 L779.8 848.4 L778.8 848 L777.8 847.6 L776.8 847.2 L775.8 846.8 L774.8 846.3 L773.8 845.9 L772.8 845.5 L771.8 845.1 L770.8 844.7 L769.8 844.3 L768.8 843.9 L767.8 843.5 L766.8 843 L765.8 842.6 L764.8 842.2 L763.8 842 L762.8 841.8 L761.8 841.5 L760.8 841.2 L759.8 841 L758.8 840.8 L757.8 840.5 L756.8 840.2 L755.8 840 L754.8 839.8 L753.8 839.5 L752.8 839.2 L751.8 839 L750.8 838.8 L749.8 838.5 L748.8 838.2 L747.8 838 L746.8 837.8 L745.8 837.5 L744.8 837.2 L743.8 837 L742.8 836.8 L741.8 836.5 L740.8 836.2 L739.8 836.7 L738.8 837.2 L737.8 837.8 L736.8 838 L735.8 838 L734.8 834Z" fill="#000" stroke="#000" stroke-width="1.6" stroke-linejoin="miter"/>
<path d="M840.7 872.3 L852.9 869.1 L852.9 875.2Z" fill="#000" stroke="#000" stroke-width="0.6" stroke-linejoin="miter"/>
<path d="M743.3 874.9 L746.6 875 L746.4 836.1 L743.5 835.3Z M750.4 875.2 L750.7 875.2 L751.1 837.1 L750.7 837Z M753.2 875.2 L753.9 875.2 L753.6 837.9 L753 837.8Z M757.6 875.2 L760.7 875.2 L761.1 839.6 L758.5 838.8Z M763.9 875.2 L764.7 875.2 L764.4 840.6 L763.7 840.4Z M766 875.2 L766.7 875.2 L767 841.4 L766.4 841.1Z M770.6 875.2 L773.9 875.2 L773.6 844.4 L770.9 843Z M775.5 875.2 L775.9 875.2 L776.3 845.2 L775.8 845Z M777.2 875.2 L777.5 875.2 L777.3 845.9 L776.9 845.7Z M779.7 875.2 L780.4 875.2 L780.7 847 L780.1 846.8Z M785.3 875.2 L788.5 875.2 L788.2 850.4 L785.5 849.1Z M791 875.2 L791.8 875.2 L792.1 851.7 L791.4 851.4Z M794.9 875.2 L795.3 875.2 L795.1 853.2 L794.6 853Z M796.4 875.2 L796.7 875.2 L797.1 853.8 L796.7 853.6Z M808.3 875.2 L809.1 875.2 L808.8 858.2 L808.1 857.9Z M810.7 875.2 L811.3 875.2 L811.6 858.9 L811.1 858.7Z M812.6 875.2 L814.8 875.2 L814.5 860.1 L812.9 859.3Z M819.7 875.2 L820.4 875.2 L820.8 861.9 L820 861.7Z M821.8 875.2 L828.5 874.9 L828.2 864.7 L822 862.4Z M832 874.5 L832.7 874.4 L833.1 866.7 L832.3 866.2Z M834.7 874.2 L835.5 874 L835.2 868 L834.5 867.7Z M837.5 873.4 L839.3 872.8 L839.6 870 L837.9 869.1Z" fill="#fff"/>
<path d="M734.8 874.5 L735.8 874.6 L736.8 874.6 L737.8 874.6 L738.8 874.7 L739.8 874.7 L740.8 874.8 L741.8 874.8 L742.8 874.9 L743.8 874.9 L744.8 875 L745.8 875 L746.8 875.1 L747.8 875.1 L748.8 875.1 L749.8 875.2 L750.8 875.2 L751.8 875.2 L752.8 875.2 L753.8 875.2 L754.8 875.2 L755.8 875.2 L756.8 875.2 L757.8 875.2 L758.8 875.2 L759.8 875.2 L760.8 875.2 L761.8 875.2 L762.8 875.2 L763.8 875.2 L764.8 875.2 L765.8 875.2 L766.8 875.2 L767.8 875.2 L768.8 875.2 L769.8 875.2 L770.8 875.2 L771.8 875.2 L772.8 875.2 L773.8 875.2 L774.8 875.2 L775.8 875.2 L776.8 875.2 L777.8 875.2 L778.8 875.2 L779.8 875.2 L780.8 875.2 L781.8 875.2 L782.8 875.2 L783.8 875.2 L784.8 875.2 L785.8 875.2 L786.8 875.2 L787.8 875.2 L788.8 875.2 L789.8 875.2 L790.8 875.2 L791.8 875.2 L792.8 875.2 L793.8 875.2 L794.8 875.2 L795.8 875.2 L796.8 875.2 L797.8 875.2 L798.8 875.2 L799.8 875.2 L800.8 875.2 L801.8 875.2 L802.8 875.2 L803.8 875.2 L804.8 875.2 L805.8 875.2 L806.8 875.2 L807.8 875.2 L808.8 875.2 L809.8 875.2 L810.8 875.2 L811.8 875.2 L812.8 875.2 L813.8 875.2 L814.8 875.2 L815.8 875.2 L816.8 875.2 L817.8 875.2 L818.8 875.2 L819.8 875.2 L820.8 875.2 L821.8 875.2 L822.8 875.2 L823.8 875.2 L824.8 875.2 L825.8 875.1 L826.8 875 L827.8 874.9 L828.8 874.8 L829.8 874.7 L830.8 874.6 L831.8 874.5 L832.8 874.4 L833.8 874.3 L834.8 874.2 L835.8 873.9 L836.8 873.6 L837.8 873.3 L838.8 872.9 L839.8 872.6 L840.7 872.3" fill="none" stroke="#000" stroke-width="1.6" stroke-linejoin="bevel" />
<path d="M1026.3 89.7 L1029.2 88.7 L1033.2 87.3 L1038 85.6 L1043.1 83.8 L1048.2 82 L1052.8 80.3 L1057.1 78.7 L1061.3 77.2 L1065.4 75.6 L1069.6 74 L1073.7 72.6 L1077.9 71.2 L1082.2 69.9 L1086.6 68.6 L1091 67.4 L1095.3 66.3 L1099.3 65.3 L1103.1 64.5 L1106.4 63.9 L1109.4 63.4 L1112.2 63.1 L1114.9 62.9 L1117.7 62.8 L1120.7 62.9 L1124 63.2 L1127.5 63.7 L1131.1 64.3 L1134.6 65 L1137.9 65.7 L1140.9 66.4 L1143.4 67.1 L1145.6 67.8 L1147.6 68.5 L1149.4 69.2 L1151.4 70 L1153.5 70.8 L1155.8 71.6 L1158 72.4 L1160.4 73.3 L1162.8 74.2 L1165.3 75.1 L1167.1 75.9 L1167.6 168.9 L1168.1 76.3 L1168.6 169.2 L1169.1 76.7 L1169.6 169 L1170.1 77.1 L1170.6 168 L1171 77.4 L1171.5 160.4 L1172 77.8 L1172.5 170.8 L1173 78.2 L1173.5 163.3 L1174 78.6 L1174.5 182.6 L1175 79 L1175.5 184 L1176 79.4 L1176.5 184 L1176.8 79.7 L1179.6 80.9 L1179.9 91 L1180.3 81.2 L1180.5 81.3 L1181 183.4 L1181.5 81.8 L1182 185.4 L1182.5 82.3 L1183 183.9 L1183.5 82.8 L1184 183.2 L1184.5 83.4 L1185 185.2 L1185.9 84.2 L1188.6 86 L1191.2 88 L1193.7 90.1 L1196.1 92.3 L1198.7 94.6 L1201.3 97 L1204.1 99.5 L1206.9 102.1 L1209.7 104.9 L1212.6 107.7 L1215.5 110.5 L1218.4 113.2 L1221.3 116 L1224.4 118.9 L1227.4 121.8 L1230.3 124.6 L1233 127.2 L1235.5 129.5 L1237.7 131.6 L1239.8 133.5 L1241.7 135.2 L1243.3 136.7 L1244.7 138 L1244.7 138.7 L1245.2 190.1 L1245.8 138.7 L1246.3 188.3 L1246.8 138.7 L1247.3 190.9 L1247.9 138.7 L1248.4 189.8 L1248.9 138.7 L1249.4 190.8 L1249.9 191 L1250.4 152 L1250.9 190.5 L1251.6 143.1 L1252.2 191 L1252.8 160 L1253.3 190 L1253.9 145.7 L1254.5 189.9 L1255.2 146 L1255.8 189 L1256.4 147 L1257 186 L1257.5 147.6 L1258 189.9 L1258.9 156.7 L1259.5 190.6 L1260.2 157 L1260.7 188 L1261.2 173.3 L1261.8 189 L1262.3 174 L1262.8 187 L1263.2 176 L1263.5 154 L1264 185.6 L1264.6 154 L1265.1 186.1 L1265.7 155 L1266.2 186.8 L1266.8 153.7 L1267.3 184.1 L1267.9 154.9 L1268.4 181.3 L1268.9 151.4 L1270.2 147 L1271 144.8 L1271.4 177.8 L1271.9 147.8 L1273 150.7 L1275 154 L1277 156.4 L1278 157.4 L1278.4 186.1 L1279 158.3 L1279.7 183 L1280.3 159.5 L1283.3 162 L1283.7 155.8 L1284.2 191 L1284.8 156.5 L1285.3 191.6 L1285.9 157.4 L1286.4 192.7 L1287 157.2 L1287.5 191.4 L1288.1 158.4 L1288.6 193.1 L1289.2 159 L1289.7 167.4 L1290.1 161.8 L1290.6 188.6 L1291.2 161.8 L1291.7 189.6 L1292.3 161.8 L1292.6 162.3 L1293.1 179.7 L1293.7 162.3 L1294.2 180.1 L1294.8 162.3 L1295.8 172.2 L1298 174.2 L1301 177" fill="none" stroke="#000" stroke-width="1.5" stroke-linejoin="bevel" />
<path d="M1026.3 89.7 L1029.2 88.7 L1033.2 87.3 L1038 85.6 L1043.1 83.8 L1048.2 82 L1052.8 80.3 L1057.1 78.7 L1061.3 77.2 L1065.4 75.6 L1069.6 74 L1073.7 72.6 L1077.9 71.2 L1082.2 69.9 L1086.6 68.6 L1091 67.4 L1095.3 66.3 L1099.3 65.3 L1103.1 64.5 L1106.4 63.9 L1109.4 63.4 L1112.2 63.1 L1114.9 62.9 L1117.7 62.8 L1120.7 62.9 L1124 63.2 L1127.5 63.7 L1131.1 64.3 L1134.6 65 L1137.9 65.7 L1140.9 66.4 L1143.4 67.1 L1145.6 67.8 L1147.6 68.5 L1149.4 69.2 L1151.4 70 L1153.5 70.8 L1155.8 71.6 L1158 72.4 L1160.4 73.3 L1162.8 74.2 L1165.3 75.1 L1167.1 75.9" fill="none" stroke="#000" stroke-width="2.1" stroke-linejoin="bevel" />
<path d="M1176.6 79.6 L1177.2 79.9 L1177.8 80.2 L1178.4 80.4 L1179 80.7 L1179.6 80.9" fill="none" stroke="#000" stroke-width="2.1" stroke-linejoin="bevel" />
<path d="M1185.1 83.7 L1185.9 84.2 L1188.6 86 L1191.2 88 L1193.7 90.1 L1196.1 92.3 L1198.7 94.6 L1201.3 97 L1204.1 99.5 L1206.9 102.1 L1209.7 104.9 L1212.6 107.7 L1215.5 110.5 L1218.4 113.2 L1221.3 116 L1224.4 118.9 L1227.4 121.8 L1230.3 124.6 L1233 127.2 L1235.5 129.5 L1237.7 131.6 L1239.8 133.5 L1241.7 135.2 L1243.3 136.7 L1244.7 138 L1245.7 138.9" fill="none" stroke="#000" stroke-width="2.1" stroke-linejoin="bevel" />
<path d="M1271 144.8 L1271.2 145.3 L1271.4 146.1 L1271.6 146.9 L1271.9 147.9 L1272.2 148.7 L1272.5 149.5 L1272.7 150.1 L1273 150.7 L1273.2 151.2 L1273.5 151.7 L1273.8 152.3 L1274.2 152.9 L1274.7 153.6 L1275.3 154.3 L1275.9 155.1 L1276.5 155.9 L1277.3 156.6 L1278 157.4 L1278.8 158.2 L1279.6 158.9 L1280.5 159.7 L1281.4 160.4 L1282.4 161.2 L1283.3 162 L1284.2 162.8 L1285.1 163.6 L1286.1 164.4 L1287 165.2 L1288 166 L1289 166.8 L1290 167.6 L1291.1 168.4 L1292.1 169.3 L1293.2 170.1 L1294.3 171 L1295.3 171.8 L1296.4 172.7 L1297.5 173.7 L1298.5 174.7 L1299.5 175.6 L1300.4 176.4 L1301 177" fill="none" stroke="#000" stroke-width="2.1" stroke-linejoin="bevel" />
<path d="M1026.3 376.5 L1028.5 377.2 L1031.6 378.1 L1035.2 379.1 L1039.1 380.3 L1043 381.6 L1046.5 382.8 L1049.7 384 L1052.9 385.3 L1056 386.7 L1059.1 388.1 L1062.2 389.5 L1065.3 391 L1068.4 392.6 L1071.6 394.2 L1074.7 396 L1077.9 397.7 L1081 399.4 L1084.2 401 L1087.4 402.6 L1090.5 404.2 L1093.7 405.9 L1096.9 407.4 L1100 408.7 L1103.1 409.9 L1106.2 410.9 L1109.2 411.7 L1112.2 412.4 L1115.2 412.9 L1118 413.2 L1120.7 413.4 L1123.2 413.4 L1125.4 413.2 L1127.6 412.8 L1129.7 412.2 L1132 411.5 L1134.6 410.5 L1137.5 409.2 L1140.7 407.6 L1144.1 405.8 L1147.4 403.9 L1150.6 402.1 L1153.5 400.4 L1156.1 398.9 L1158.4 397.5 L1160.6 396.1 L1162.8 394.7 L1165 393.3 L1166.9 392.1 L1167.4 333.8 L1167.9 391.5 L1168.4 333.4 L1168.9 390.9 L1169.4 332.9 L1169.9 390.3 L1170.4 332.2 L1170.8 389.8 L1171.3 327.7 L1171.8 389.2 L1172.3 333.4 L1172.8 388.6 L1173.3 328 L1173.8 388 L1174.3 334.2 L1174.8 387.4 L1175.3 332.6 L1176 386.7 L1178 385.5 L1180 384.2 L1180.3 385.5 L1180.8 326.9 L1181.3 384.9 L1181.8 327.3 L1182.3 384.2 L1182.8 327.3 L1183.3 383.6 L1183.8 328.1 L1184.8 381 L1187.5 379.2 L1190.2 377.3 L1192.9 375.4 L1195.6 373.5 L1198.3 371.6 L1201 369.8 L1203.6 368 L1206.3 366.2 L1209 364.5 L1211.6 362.8 L1214.3 361.1 L1217 359.4 L1219.7 357.7 L1222.4 356.1 L1225.1 354.4 L1227.8 352.9 L1230.4 351.5 L1233.1 350.2 L1235.9 348.9 L1238.7 347.6 L1241.2 346.6 L1243.3 345.7 L1244.6 344.3 L1245.1 325.2 L1245.7 345.1 L1246.2 325.5 L1246.8 345 L1247.3 325.1 L1247.9 345.3 L1248.4 325.1 L1249 344.8 L1249.4 342.8 L1249.9 325 L1250.5 339.5 L1251.1 325 L1251.7 342.8 L1252.3 325.2 L1252.9 342.5 L1253.6 325.4 L1254.2 341.7 L1254.8 325.4 L1255.4 341 L1256 325.6 L1256.6 341.7 L1257.2 325.6 L1257.8 339 L1258.4 325.7 L1259 337.4 L1259.6 325.7 L1260.2 337 L1260.8 325.7 L1261.4 331 L1262 325.9 L1262.6 331.5 L1263.2 337.5 L1263.9 326.5 L1264.5 338.2 L1265.2 326.5 L1265.8 338.9 L1266.5 326.9 L1267.1 337.4 L1267.8 327 L1268.4 336.4 L1269.4 328.2 L1270.4 329.1 L1271.2 342.8 L1272 341.2 L1273 339.5 L1275.4 337.4 L1277.6 336.6 L1278.4 326.6 L1279 332.5 L1279.6 326.6 L1280.3 332 L1280.9 326.8 L1281.6 335.3 L1283.6 334.7 L1283.9 336.7 L1284.5 325.1 L1285.1 337.4 L1285.7 325.4 L1286.3 337 L1286.9 324.5 L1287.5 336.3 L1288.1 325.2 L1288.7 337 L1289.3 325.1 L1289.9 336.2 L1290.5 324.5 L1291.2 334.4 L1291.8 326.9 L1292.4 334.5 L1293 327.5 L1293.6 333.3 L1294.2 328.1 L1294.8 333.8 L1295.4 328.9 L1296.3 331.2 L1298 330.8 L1300.7 330.2" fill="none" stroke="#000" stroke-width="1.5" stroke-linejoin="bevel" />
<path d="M1026.3 376.5 L1028.5 377.2 L1031.6 378.1 L1035.2 379.1 L1039.1 380.3 L1043 381.6 L1046.5 382.8 L1049.7 384 L1052.9 385.3 L1056 386.7 L1059.1 388.1 L1062.2 389.5 L1065.3 391 L1068.4 392.6 L1071.6 394.2 L1074.7 396 L1077.9 397.7 L1081 399.4 L1084.2 401 L1087.4 402.6 L1090.5 404.2 L1093.7 405.9 L1096.9 407.4 L1100 408.7 L1103.1 409.9 L1106.2 410.9 L1109.2 411.7 L1112.2 412.4 L1115.2 412.9 L1118 413.2 L1120.7 413.4 L1123.2 413.4 L1125.4 413.2 L1127.6 412.8 L1129.7 412.2 L1132 411.5 L1134.6 410.5 L1137.5 409.2 L1140.7 407.6 L1144.1 405.8 L1147.4 403.9 L1150.6 402.1 L1153.5 400.4 L1156.1 398.9 L1158.4 397.5 L1160.6 396.1 L1162.8 394.7 L1165 393.3 L1166.9 392.1" fill="none" stroke="#000" stroke-width="2.1" stroke-linejoin="bevel" />
<path d="M1175.8 386.8 L1176.4 386.4 L1177 386.1 L1177.6 385.7 L1178.2 385.3 L1178.8 385 L1179.4 384.6 L1180 384.2" fill="none" stroke="#000" stroke-width="2.1" stroke-linejoin="bevel" />
<path d="M1184.2 381.5 L1184.8 381 L1187.5 379.2 L1190.2 377.3 L1192.9 375.4 L1195.6 373.5 L1198.3 371.6 L1201 369.8 L1203.6 368 L1206.3 366.2 L1209 364.5 L1211.6 362.8 L1214.3 361.1 L1217 359.4 L1219.7 357.7 L1222.4 356.1 L1225.1 354.4 L1227.8 352.9 L1230.4 351.5 L1233.1 350.2 L1235.9 348.9 L1238.7 347.6 L1241.2 346.6 L1243.3 345.7 L1244.9 345" fill="none" stroke="#000" stroke-width="2.1" stroke-linejoin="bevel" />
<path d="M1271.2 342.8 L1271.4 342.4 L1271.6 341.9 L1272 341.3 L1272.3 340.6 L1272.6 340 L1273 339.5 L1273.3 339.1 L1273.6 338.7 L1274 338.4 L1274.4 338 L1274.8 337.7 L1275.4 337.4 L1276.1 337.1 L1276.8 336.8 L1277.6 336.5 L1278.5 336.3 L1279.6 336 L1280.7 335.6 L1282 335.2 L1283.5 334.7 L1285 334.2 L1286.6 333.7 L1288.3 333.2 L1290 332.7 L1291.8 332.2 L1293.9 331.7 L1295.9 331.3 L1297.9 330.8 L1299.5 330.5 L1300.7 330.2" fill="none" stroke="#000" stroke-width="2.1" stroke-linejoin="bevel" />
<path d="M1026.3 607.1 L1028.5 607.8 L1031.6 608.7 L1035.2 609.7 L1039.1 610.9 L1043 612.2 L1046.5 613.4 L1049.7 614.6 L1052.9 615.9 L1056 617.3 L1059.1 618.7 L1062.2 620.1 L1065.3 621.6 L1068.4 623.2 L1071.6 624.8 L1074.7 626.6 L1077.9 628.3 L1081 630 L1084.2 631.6 L1087.4 633.2 L1090.5 634.8 L1093.7 636.5 L1096.9 638 L1100 639.3 L1103.1 640.5 L1106.2 641.5 L1109.2 642.3 L1112.2 643 L1115.2 643.5 L1118 643.8 L1120.7 644 L1123.2 644 L1125.4 643.8 L1127.6 643.4 L1129.7 642.8 L1132 642.1 L1134.6 641.1 L1137.5 639.8 L1140.7 638.2 L1144.1 636.4 L1147.4 634.5 L1150.6 632.7 L1153.5 631 L1156.1 629.5 L1158.4 628.1 L1160.6 626.7 L1162.8 625.3 L1165 623.9 L1166.9 622.7 L1167.4 562.2 L1167.9 622.1 L1168.4 563.7 L1168.9 621.5 L1169.4 563.8 L1169.9 620.9 L1170.4 563.2 L1170.8 620.4 L1171.3 561.6 L1171.8 619.8 L1172.3 564.3 L1172.8 619.2 L1173.3 563.1 L1173.8 618.6 L1174.3 558.5 L1174.8 618 L1175.3 563.9 L1176 617.3 L1178 616.1 L1180 614.8 L1180.3 616.1 L1180.8 558.1 L1181.3 615.5 L1181.8 557.2 L1182.3 614.8 L1182.8 558.3 L1183.3 614.2 L1183.8 558.2 L1184.8 611.6 L1187.5 609.8 L1190.2 607.9 L1192.9 606 L1195.6 604.1 L1198.3 602.2 L1201 600.4 L1203.6 598.6 L1206.3 596.9 L1209 595.1 L1211.6 593.4 L1214.3 591.7 L1217 590 L1219.7 588.3 L1222.4 586.6 L1225.1 585 L1227.8 583.5 L1230.4 582.1 L1233.1 580.8 L1235.9 579.5 L1238.7 578.2 L1241.2 577.2 L1243.3 576.3 L1244.6 575.6 L1245.1 555.8 L1245.7 575.4 L1246.2 555.8 L1246.8 575.8 L1247.3 556 L1247.9 575.7 L1248.4 556.1 L1249 574.9 L1249.4 573.4 L1249.9 555.6 L1250.5 570.1 L1251.1 555.6 L1251.7 573.4 L1252.3 555.8 L1252.9 573.1 L1253.6 556 L1254.2 572.3 L1254.8 556 L1255.4 571.6 L1256 556.2 L1256.6 572.3 L1257.2 556.2 L1257.8 569.6 L1258.4 556.3 L1259 568 L1259.6 556.3 L1260.2 567.6 L1260.8 556.3 L1261.4 561.6 L1262 556.5 L1262.6 562.1 L1263.2 569.5 L1263.9 557.7 L1264.5 568.3 L1265.2 557.8 L1265.8 569 L1266.5 557.5 L1267.1 566.7 L1267.8 557.4 L1268.4 566.9 L1269.4 558.8 L1270.4 559.7 L1271.2 573.4 L1272 571.8 L1273 570.1 L1275.4 568 L1277.6 567.2 L1278.4 557.2 L1279 563.1 L1279.6 557.2 L1280.3 562.6 L1280.9 557.4 L1281.6 565.9 L1283.6 565.3 L1283.9 567 L1284.5 555 L1285.1 565.8 L1285.7 555.3 L1286.3 565.9 L1286.9 555.8 L1287.5 565 L1288.1 555.1 L1288.7 567.9 L1289.3 555.3 L1289.9 565.6 L1290.5 555.6 L1291.2 565 L1291.8 556.8 L1292.4 564.3 L1293 558.5 L1293.6 564.3 L1294.2 558.4 L1294.8 564.2 L1295.4 559.7 L1296.3 561.8 L1298 561.4 L1300.7 560.8" fill="none" stroke="#000" stroke-width="1.5" stroke-linejoin="bevel" />
<path d="M1026.3 607.1 L1028.5 607.8 L1031.6 608.7 L1035.2 609.7 L1039.1 610.9 L1043 612.2 L1046.5 613.4 L1049.7 614.6 L1052.9 615.9 L1056 617.3 L1059.1 618.7 L1062.2 620.1 L1065.3 621.6 L1068.4 623.2 L1071.6 624.8 L1074.7 626.6 L1077.9 628.3 L1081 630 L1084.2 631.6 L1087.4 633.2 L1090.5 634.8 L1093.7 636.5 L1096.9 638 L1100 639.3 L1103.1 640.5 L1106.2 641.5 L1109.2 642.3 L1112.2 643 L1115.2 643.5 L1118 643.8 L1120.7 644 L1123.2 644 L1125.4 643.8 L1127.6 643.4 L1129.7 642.8 L1132 642.1 L1134.6 641.1 L1137.5 639.8 L1140.7 638.2 L1144.1 636.4 L1147.4 634.5 L1150.6 632.7 L1153.5 631 L1156.1 629.5 L1158.4 628.1 L1160.6 626.7 L1162.8 625.3 L1165 623.9 L1166.9 622.7" fill="none" stroke="#000" stroke-width="2.1" stroke-linejoin="bevel" />
<path d="M1175.8 617.4 L1176.4 617 L1177 616.7 L1177.6 616.3 L1178.2 615.9 L1178.8 615.6 L1179.4 615.2 L1180 614.8" fill="none" stroke="#000" stroke-width="2.1" stroke-linejoin="bevel" />
<path d="M1184.2 612.1 L1184.8 611.6 L1187.5 609.8 L1190.2 607.9 L1192.9 606 L1195.6 604.1 L1198.3 602.2 L1201 600.4 L1203.6 598.6 L1206.3 596.9 L1209 595.1 L1211.6 593.4 L1214.3 591.7 L1217 590 L1219.7 588.3 L1222.4 586.6 L1225.1 585 L1227.8 583.5 L1230.4 582.1 L1233.1 580.8 L1235.9 579.5 L1238.7 578.2 L1241.2 577.2 L1243.3 576.3 L1244.9 575.6" fill="none" stroke="#000" stroke-width="2.1" stroke-linejoin="bevel" />
<path d="M1271.2 573.4 L1271.4 573 L1271.6 572.5 L1272 571.9 L1272.3 571.2 L1272.6 570.6 L1273 570.1 L1273.3 569.7 L1273.6 569.3 L1274 569 L1274.4 568.6 L1274.8 568.3 L1275.4 568 L1276.1 567.7 L1276.8 567.4 L1277.6 567.1 L1278.5 566.9 L1279.6 566.6 L1280.7 566.2 L1282 565.8 L1283.5 565.3 L1285 564.8 L1286.6 564.3 L1288.3 563.8 L1290 563.3 L1291.8 562.8 L1293.9 562.3 L1295.9 561.9 L1297.9 561.4 L1299.5 561.1 L1300.7 560.8" fill="none" stroke="#000" stroke-width="2.1" stroke-linejoin="bevel" />
<path d="M1026.3 897.3 L1029.2 897.8 L1033.2 898.5 L1038 899.3 L1043.1 900.1 L1048.2 901 L1052.8 901.7 L1057.1 902.4 L1061.3 903.1 L1065.4 903.7 L1069.6 904.3 L1073.7 904.9 L1077.9 905.4 L1082.2 905.8 L1086.6 906.2 L1091 906.6 L1095.3 906.8 L1099.3 907.1 L1103.1 907.3 L1106.4 907.5 L1109.4 907.6 L1112.2 907.7 L1114.9 907.7 L1117.7 907.7 L1120.7 907.7 L1124 907.6 L1127.5 907.4 L1131.1 907.2 L1134.6 907 L1137.9 906.7 L1140.9 906.5 L1143.4 906.2 L1145.6 906 L1147.6 905.7 L1149.5 905.4 L1151.4 905.1 L1153.5 904.8 L1155.7 904.6 L1157.8 904.4 L1160 904.2 L1162.3 904.1 L1164.6 903.8 L1166.7 903.6 L1167.2 815.7 L1167.7 903.4 L1168.2 814.4 L1168.7 903.3 L1169.2 812.6 L1169.7 903.1 L1170.2 903.1 L1170.6 830 L1171 903 L1171.4 787.6 L1171.9 902.9 L1172.1 902.8 L1172.6 812.4 L1173.1 902.7 L1173.6 807.3 L1174.1 902.5 L1174.6 813.4 L1174.8 902.4 L1175.2 790.2 L1175.7 902.3 L1176.3 902.2 L1178 901.9 L1180.2 901.4 L1180.4 902.4 L1180.9 790.5 L1181.4 902.2 L1181.9 790.3 L1182.4 901.9 L1182.9 789.4 L1183.4 901.6 L1183.9 789.5 L1184.4 901.3 L1187 899.4 L1189.9 898.3 L1192.8 897 L1195.6 895.7 L1198.5 894.2 L1201.3 892.7 L1204.1 891.1 L1207 889.4 L1209.8 887.6 L1212.7 885.7 L1215.5 883.7 L1218.4 881.6 L1221.3 879.2 L1224.4 876.6 L1227.4 873.8 L1230.4 871 L1233.1 868.5 L1235.5 866.2 L1237.6 864.2 L1239.6 862.3 L1241.3 860.5 L1242.7 859 L1244 857.8 L1244.7 856.1 L1245.2 778.7 L1245.8 855.9 L1246.3 777.6 L1246.8 855.5 L1247.3 777.7 L1247.9 853.3 L1248.4 778.4 L1248.9 853.7 L1249.8 852 L1250.3 777.5 L1250.9 849.4 L1251.5 778 L1252.1 849 L1252.6 781 L1253.1 846 L1253.7 781.6 L1254.3 811 L1254.9 781.6 L1255.5 846.4 L1256.1 781.6 L1256.7 812 L1257.3 782 L1257.9 843 L1258.5 783 L1259.1 833.4 L1259.7 781 L1260.3 809 L1260.9 781.5 L1261.5 830 L1262.1 783 L1262.7 809 L1263.2 790 L1263.7 837.4 L1264.3 789 L1264.9 836 L1265.6 784.1 L1266.2 837 L1266.8 786 L1267.4 837.4 L1268 791.1 L1268.6 839 L1269.2 792 L1269.8 842 L1270.4 802.2 L1271 848.4 L1272 843.4 L1273 839.9 L1275 835.7 L1277 833.2 L1278 832.1 L1278.5 788.6 L1279.1 830.9 L1279.7 790 L1280.3 829.6 L1280.9 792.1 L1281.5 828.2 L1283.4 825.7 L1283.9 832.9 L1284.5 776.3 L1285 832.4 L1285.5 775.4 L1286.1 828.8 L1286.6 776.1 L1287.2 830.3 L1287.7 775.8 L1288.3 828.8 L1288.8 776.3 L1289.4 830 L1290.3 823.6 L1290.9 784.8 L1291.5 823.2 L1292.1 784.1 L1292.7 823.2 L1293.3 790.9 L1293.9 825.1 L1294.5 794.4 L1295.1 823.5 L1295.7 797.2 L1296.3 807 L1298 805.1 L1300.3 802.7" fill="none" stroke="#000" stroke-width="1.5" stroke-linejoin="bevel" />
<path d="M1026.3 897.3 L1029.2 897.8 L1033.2 898.5 L1038 899.3 L1043.1 900.1 L1048.2 901 L1052.8 901.7 L1057.1 902.4 L1061.3 903.1 L1065.4 903.7 L1069.6 904.3 L1073.7 904.9 L1077.9 905.4 L1082.2 905.8 L1086.6 906.2 L1091 906.6 L1095.3 906.8 L1099.3 907.1 L1103.1 907.3 L1106.4 907.5 L1109.4 907.6 L1112.2 907.7 L1114.9 907.7 L1117.7 907.7 L1120.7 907.7 L1124 907.6 L1127.5 907.4 L1131.1 907.2 L1134.6 907 L1137.9 906.7 L1140.9 906.5 L1143.4 906.2 L1145.6 906 L1147.6 905.7 L1149.5 905.4 L1151.4 905.1 L1153.5 904.8 L1155.7 904.6 L1157.8 904.4 L1160 904.2 L1162.3 904.1 L1164.6 903.8 L1166.7 903.6" fill="none" stroke="#000" stroke-width="2.1" stroke-linejoin="bevel" />
<path d="M1176.1 902.2 L1176.7 902.1 L1177.3 902 L1177.9 901.9 L1178.5 901.8 L1179.1 901.7 L1179.7 901.6 L1180.3 901.4" fill="none" stroke="#000" stroke-width="2.1" stroke-linejoin="bevel" />
<path d="M1184.8 900.2 L1187 899.4 L1189.9 898.3 L1192.8 897 L1195.6 895.7 L1198.5 894.2 L1201.3 892.7 L1204.1 891.1 L1207 889.4 L1209.8 887.6 L1212.7 885.7 L1215.5 883.7 L1218.4 881.6 L1221.3 879.2 L1224.4 876.6 L1227.4 873.8 L1230.4 871 L1233.1 868.5 L1235.5 866.2 L1237.6 864.2 L1239.6 862.3 L1241.3 860.5 L1242.7 859 L1244 857.8 L1244.9 856.8" fill="none" stroke="#000" stroke-width="2.1" stroke-linejoin="bevel" />
<path d="M1271 848.4 L1271.1 847.6 L1271.3 846.6 L1271.6 845.3 L1271.9 844 L1272.2 842.7 L1272.5 841.5 L1272.8 840.5 L1273.2 839.5 L1273.5 838.5 L1273.9 837.6 L1274.5 836.5 L1275.2 835.4 L1276.1 834.2 L1277.2 832.9 L1278.4 831.6 L1279.7 830.2 L1281 828.8 L1282.2 827.3 L1283.4 825.8 L1284.5 824.1 L1285.6 822.5 L1286.8 820.8 L1287.9 819.1 L1289 817.5 L1290.1 815.9 L1291.2 814.2 L1292.3 812.6 L1293.3 811 L1294.3 809.5 L1295.3 808.2 L1296.3 807 L1297.2 805.9 L1298.2 804.9 L1299.1 804 L1299.8 803.3 L1300.3 802.7" fill="none" stroke="#000" stroke-width="2.1" stroke-linejoin="bevel" />
</g>
<g fill="#e84cc2">
<rect x="197" y="42" width="6" height="8.6"/>
<rect x="197" y="56.2" width="6" height="5.7"/>
<rect x="197" y="67.6" width="6" height="5.7"/>
<rect x="197" y="79" width="6" height="5.7"/>
<rect x="197" y="90.4" width="6" height="5.7"/>
<rect x="197" y="101.8" width="6" height="5.7"/>
<rect x="197" y="113.2" width="6" height="5.7"/>
<rect x="197" y="124.5" width="6" height="5.7"/>
<rect x="197" y="135.9" width="6" height="5.7"/>
<rect x="197" y="147.3" width="6" height="5.7"/>
<rect x="197" y="158.7" width="6" height="5.7"/>
<rect x="197" y="170.1" width="6" height="5.7"/>
<rect x="197" y="181.5" width="6" height="5.7"/>
<rect x="197" y="192.9" width="6" height="5.7"/>
<rect x="197" y="204.3" width="6" height="5.7"/>
<rect x="197" y="215.7" width="6" height="5.7"/>
<rect x="197" y="227.1" width="6" height="5.7"/>
<rect x="197" y="238.4" width="6" height="5.7"/>
<rect x="197" y="249.8" width="6" height="5.7"/>
<rect x="197" y="261.2" width="6" height="5.7"/>
<rect x="197" y="272.6" width="6" height="5.7"/>
<rect x="197" y="284" width="6" height="5.7"/>
<rect x="197" y="295.4" width="6" height="5.7"/>
<rect x="197" y="306.8" width="6" height="5.7"/>
<rect x="197" y="318.2" width="6" height="5.7"/>
<rect x="197" y="329.6" width="6" height="5.7"/>
<rect x="197" y="340.9" width="6" height="5.7"/>
<rect x="197" y="352.3" width="6" height="5.7"/>
<rect x="197" y="363.7" width="6" height="5.7"/>
<rect x="197" y="375.1" width="6" height="5.7"/>
<rect x="197" y="386.5" width="6" height="5.7"/>
<rect x="197" y="397.9" width="6" height="5.7"/>
<rect x="197" y="409.3" width="6" height="5.7"/>
<rect x="197" y="420.7" width="6" height="5.7"/>
<rect x="197" y="432.1" width="6" height="5.7"/>
<rect x="197" y="443.5" width="6" height="5.7"/>
<rect x="197" y="454.9" width="6" height="5.7"/>
<rect x="197" y="466.2" width="6" height="5.7"/>
<rect x="197" y="477.6" width="6" height="5.7"/>
<rect x="197" y="489" width="6" height="5.7"/>
<rect x="197" y="500.4" width="6" height="5.7"/>
<rect x="197" y="511.8" width="6" height="5.7"/>
<rect x="197" y="523.2" width="6" height="5.7"/>
<rect x="197" y="534.6" width="6" height="5.7"/>
<rect x="197" y="546" width="6" height="5.7"/>
<rect x="197" y="557.4" width="6" height="5.7"/>
<rect x="197" y="568.8" width="6" height="5.7"/>
<rect x="197" y="580.1" width="6" height="5.7"/>
<rect x="197" y="591.5" width="6" height="5.7"/>
<rect x="197" y="602.9" width="6" height="5.7"/>
<rect x="197" y="614.3" width="6" height="5.7"/>
<rect x="197" y="625.7" width="6" height="5.7"/>
<rect x="197" y="637.1" width="6" height="5.7"/>
<rect x="197" y="648.5" width="6" height="5.7"/>
<rect x="197" y="659.9" width="6" height="5.7"/>
<rect x="197" y="671.3" width="6" height="5.7"/>
<rect x="197" y="682.7" width="6" height="5.7"/>
<rect x="197" y="694" width="6" height="5.7"/>
<rect x="197" y="705.4" width="6" height="5.7"/>
<rect x="197" y="716.8" width="6" height="5.7"/>
<rect x="197" y="728.2" width="6" height="5.7"/>
<rect x="197" y="739.6" width="6" height="5.7"/>
<rect x="197" y="751" width="6" height="5.7"/>
<rect x="197" y="762.4" width="6" height="5.7"/>
<rect x="197" y="773.8" width="6" height="5.7"/>
<rect x="197" y="785.2" width="6" height="5.7"/>
<rect x="197" y="796.6" width="6" height="5.7"/>
<rect x="197" y="807.9" width="6" height="5.7"/>
<rect x="197" y="819.3" width="6" height="5.7"/>
<rect x="197" y="830.7" width="6" height="5.7"/>
<rect x="197" y="842.1" width="6" height="5.7"/>
<rect x="197" y="853.5" width="6" height="5.7"/>
<rect x="197" y="864.9" width="6" height="5.7"/>
<rect x="197" y="876.3" width="6" height="5.7"/>
<rect x="197" y="887.7" width="6" height="5.7"/>
<rect x="197" y="898.7" width="6" height="8.5"/>
</g>
<g fill="#e84cc2">
<rect x="800" y="42" width="6" height="8.6"/>
<rect x="800" y="56.2" width="6" height="5.7"/>
<rect x="800" y="67.6" width="6" height="5.7"/>
<rect x="800" y="79" width="6" height="5.7"/>
<rect x="800" y="90.4" width="6" height="5.7"/>
<rect x="800" y="101.8" width="6" height="5.7"/>
<rect x="800" y="113.2" width="6" height="5.7"/>
<rect x="800" y="124.5" width="6" height="5.7"/>
<rect x="800" y="135.9" width="6" height="5.7"/>
<rect x="800" y="147.3" width="6" height="5.7"/>
<rect x="800" y="158.7" width="6" height="5.7"/>
<rect x="800" y="170.1" width="6" height="5.7"/>
<rect x="800" y="181.5" width="6" height="5.7"/>
<rect x="800" y="192.9" width="6" height="5.7"/>
<rect x="800" y="204.3" width="6" height="5.7"/>
<rect x="800" y="215.7" width="6" height="5.7"/>
<rect x="800" y="227.1" width="6" height="5.7"/>
<rect x="800" y="238.4" width="6" height="5.7"/>
<rect x="800" y="249.8" width="6" height="5.7"/>
<rect x="800" y="261.2" width="6" height="5.7"/>
<rect x="800" y="272.6" width="6" height="5.7"/>
<rect x="800" y="284" width="6" height="5.7"/>
<rect x="800" y="295.4" width="6" height="5.7"/>
<rect x="800" y="306.8" width="6" height="5.7"/>
<rect x="800" y="318.2" width="6" height="5.7"/>
<rect x="800" y="329.6" width="6" height="5.7"/>
<rect x="800" y="340.9" width="6" height="5.7"/>
<rect x="800" y="352.3" width="6" height="5.7"/>
<rect x="800" y="363.7" width="6" height="5.7"/>
<rect x="800" y="375.1" width="6" height="5.7"/>
<rect x="800" y="386.5" width="6" height="5.7"/>
<rect x="800" y="397.9" width="6" height="5.7"/>
<rect x="800" y="409.3" width="6" height="5.7"/>
<rect x="800" y="420.7" width="6" height="5.7"/>
<rect x="800" y="432.1" width="6" height="5.7"/>
<rect x="800" y="443.5" width="6" height="5.7"/>
<rect x="800" y="454.9" width="6" height="5.7"/>
<rect x="800" y="466.2" width="6" height="5.7"/>
<rect x="800" y="477.6" width="6" height="5.7"/>
<rect x="800" y="489" width="6" height="5.7"/>
<rect x="800" y="500.4" width="6" height="5.7"/>
<rect x="800" y="511.8" width="6" height="5.7"/>
<rect x="800" y="523.2" width="6" height="5.7"/>
<rect x="800" y="534.6" width="6" height="5.7"/>
<rect x="800" y="546" width="6" height="5.7"/>
<rect x="800" y="557.4" width="6" height="5.7"/>
<rect x="800" y="568.8" width="6" height="5.7"/>
<rect x="800" y="580.1" width="6" height="5.7"/>
<rect x="800" y="591.5" width="6" height="5.7"/>
<rect x="800" y="602.9" width="6" height="5.7"/>
<rect x="800" y="614.3" width="6" height="5.7"/>
<rect x="800" y="625.7" width="6" height="5.7"/>
<rect x="800" y="637.1" width="6" height="5.7"/>
<rect x="800" y="648.5" width="6" height="5.7"/>
<rect x="800" y="659.9" width="6" height="5.7"/>
<rect x="800" y="671.3" width="6" height="5.7"/>
<rect x="800" y="682.7" width="6" height="5.7"/>
<rect x="800" y="694" width="6" height="5.7"/>
<rect x="800" y="705.4" width="6" height="5.7"/>
<rect x="800" y="716.8" width="6" height="5.7"/>
<rect x="800" y="728.2" width="6" height="5.7"/>
<rect x="800" y="739.6" width="6" height="5.7"/>
<rect x="800" y="751" width="6" height="5.7"/>
<rect x="800" y="762.4" width="6" height="5.7"/>
<rect x="800" y="773.8" width="6" height="5.7"/>
<rect x="800" y="785.2" width="6" height="5.7"/>
<rect x="800" y="796.6" width="6" height="5.7"/>
<rect x="800" y="807.9" width="6" height="5.7"/>
<rect x="800" y="819.3" width="6" height="5.7"/>
<rect x="800" y="830.7" width="6" height="5.7"/>
<rect x="800" y="842.1" width="6" height="5.7"/>
<rect x="800" y="853.5" width="6" height="5.7"/>
<rect x="800" y="864.9" width="6" height="5.7"/>
<rect x="800" y="876.3" width="6" height="5.7"/>
<rect x="800" y="887.7" width="6" height="5.7"/>
<rect x="800" y="898.7" width="6" height="8.5"/>
</g>
<g id="axes">
<path d="M140 43 V218.1" stroke="#000" stroke-width="2.1" fill="none"/>
<path d="M131.8 44 H140" stroke="#000" stroke-width="2.1"/>
<text transform="translate(122.6 56.3) scale(1 1.04)" text-anchor="end">100</text>
<path d="M131.8 101.7 H140" stroke="#000" stroke-width="2.1"/>
<text transform="translate(122.6 114) scale(1 1.04)" text-anchor="end">60</text>
<path d="M131.8 159.3 H140" stroke="#000" stroke-width="2.1"/>
<text transform="translate(122.6 171.6) scale(1 1.04)" text-anchor="end">20</text>
<path d="M131.8 217 H140" stroke="#000" stroke-width="2.1"/>
<text transform="translate(122.6 229.3) scale(1 1.04)" text-anchor="end">−20</text>
<path d="M139 274.3 V449.1" stroke="#000" stroke-width="2.1" fill="none"/>
<path d="M130.8 275.4 H139" stroke="#000" stroke-width="2.1"/>
<text transform="translate(121.6 287.7) scale(1 1.04)" text-anchor="end">3</text>
<path d="M130.8 332.9 H139" stroke="#000" stroke-width="2.1"/>
<text transform="translate(121.6 345.2) scale(1 1.04)" text-anchor="end">2</text>
<path d="M130.8 390.5 H139" stroke="#000" stroke-width="2.1"/>
<text transform="translate(121.6 402.8) scale(1 1.04)" text-anchor="end">1</text>
<path d="M130.8 448 H139" stroke="#000" stroke-width="2.1"/>
<text transform="translate(121.6 460.3) scale(1 1.04)" text-anchor="end">0</text>
<path d="M139 504.9 V680" stroke="#000" stroke-width="2.1" fill="none"/>
<path d="M130.8 506 H139" stroke="#000" stroke-width="2.1"/>
<text transform="translate(121.6 518.3) scale(1 1.04)" text-anchor="end">3</text>
<path d="M130.8 563.7 H139" stroke="#000" stroke-width="2.1"/>
<text transform="translate(121.6 576) scale(1 1.04)" text-anchor="end">2</text>
<path d="M130.8 621.3 H139" stroke="#000" stroke-width="2.1"/>
<text transform="translate(121.6 633.6) scale(1 1.04)" text-anchor="end">1</text>
<path d="M130.8 679 H139" stroke="#000" stroke-width="2.1"/>
<text transform="translate(121.6 691.3) scale(1 1.04)" text-anchor="end">0</text>
<path d="M140 736 V918" stroke="#000" stroke-width="2.1" fill="none"/>
<path d="M131.8 737 H140" stroke="#000" stroke-width="2.1"/>
<text transform="translate(122.6 749.3) scale(1 1.04)" text-anchor="end">4</text>
<path d="M131.8 780.2 H140" stroke="#000" stroke-width="2.1"/>
<text transform="translate(122.6 792.5) scale(1 1.04)" text-anchor="end">3</text>
<path d="M131.8 823.4 H140" stroke="#000" stroke-width="2.1"/>
<text transform="translate(122.6 835.7) scale(1 1.04)" text-anchor="end">2</text>
<path d="M131.8 866.6 H140" stroke="#000" stroke-width="2.1"/>
<text transform="translate(122.6 878.9) scale(1 1.04)" text-anchor="end">1</text>
<path d="M131.8 909.8 H140" stroke="#000" stroke-width="2.1"/>
<text transform="translate(122.6 922.1) scale(1 1.04)" text-anchor="end">0</text>
<path d="M140 909.8 H416.1" stroke="#000" stroke-width="2.1"/>
<text transform="translate(140 949.6) scale(1 1.04)" text-anchor="middle">0</text>
<path d="M195 909.8 V918" stroke="#000" stroke-width="2.1"/>
<text transform="translate(195 949.6) scale(1 1.04)" text-anchor="middle">1</text>
<path d="M250 909.8 V918" stroke="#000" stroke-width="2.1"/>
<text transform="translate(250 949.6) scale(1 1.04)" text-anchor="middle">2</text>
<path d="M305 909.8 V918" stroke="#000" stroke-width="2.1"/>
<text transform="translate(305 949.6) scale(1 1.04)" text-anchor="middle">3</text>
<path d="M360 909.8 V918" stroke="#000" stroke-width="2.1"/>
<text transform="translate(360 949.6) scale(1 1.04)" text-anchor="middle">4</text>
<path d="M415 909.8 V918" stroke="#000" stroke-width="2.1"/>
<text transform="translate(415 949.6) scale(1 1.04)" text-anchor="middle">5</text>
<text transform="translate(277.8 987) scale(1 1.04)" text-anchor="middle">Delay time <tspan font-style="italic">T</tspan> (s)</text>
<path d="M578.3 43 V218.1" stroke="#000" stroke-width="2.1" fill="none"/>
<path d="M570.1 44 H578.3" stroke="#000" stroke-width="2.1"/>
<text transform="translate(563.2 56.3) scale(1 1.04)" text-anchor="end">75</text>
<path d="M570.1 87.2 H578.3" stroke="#000" stroke-width="2.1"/>
<text transform="translate(563.2 99.5) scale(1 1.04)" text-anchor="end">65</text>
<path d="M570.1 130.5 H578.3" stroke="#000" stroke-width="2.1"/>
<text transform="translate(563.2 142.8) scale(1 1.04)" text-anchor="end">55</text>
<path d="M570.1 173.8 H578.3" stroke="#000" stroke-width="2.1"/>
<text transform="translate(563.2 186.1) scale(1 1.04)" text-anchor="end">45</text>
<path d="M570.1 217 H578.3" stroke="#000" stroke-width="2.1"/>
<text transform="translate(563.2 229.3) scale(1 1.04)" text-anchor="end">35</text>
<path d="M578.3 274.3 V449.1" stroke="#000" stroke-width="2.1" fill="none"/>
<path d="M570.1 275.4 H578.3" stroke="#000" stroke-width="2.1"/>
<text transform="translate(563.2 287.7) scale(1 1.04)" text-anchor="end">1.5</text>
<path d="M570.1 332.9 H578.3" stroke="#000" stroke-width="2.1"/>
<text transform="translate(563.2 345.2) scale(1 1.04)" text-anchor="end">1.2</text>
<path d="M570.1 390.5 H578.3" stroke="#000" stroke-width="2.1"/>
<text transform="translate(563.2 402.8) scale(1 1.04)" text-anchor="end">0.9</text>
<path d="M570.1 448 H578.3" stroke="#000" stroke-width="2.1"/>
<text transform="translate(563.2 460.3) scale(1 1.04)" text-anchor="end">0.6</text>
<path d="M578.3 504.9 V680" stroke="#000" stroke-width="2.1" fill="none"/>
<path d="M570.1 506 H578.3" stroke="#000" stroke-width="2.1"/>
<text transform="translate(563.2 518.3) scale(1 1.04)" text-anchor="end">1.5</text>
<path d="M570.1 563.7 H578.3" stroke="#000" stroke-width="2.1"/>
<text transform="translate(563.2 576) scale(1 1.04)" text-anchor="end">1.2</text>
<path d="M570.1 621.3 H578.3" stroke="#000" stroke-width="2.1"/>
<text transform="translate(563.2 633.6) scale(1 1.04)" text-anchor="end">0.9</text>
<path d="M570.1 679 H578.3" stroke="#000" stroke-width="2.1"/>
<text transform="translate(563.2 691.3) scale(1 1.04)" text-anchor="end">0.6</text>
<path d="M578.3 736 V918" stroke="#000" stroke-width="2.1" fill="none"/>
<path d="M570.1 737 H578.3" stroke="#000" stroke-width="2.1"/>
<text transform="translate(563.2 749.3) scale(1 1.04)" text-anchor="end">1.2</text>
<path d="M570.1 780.2 H578.3" stroke="#000" stroke-width="2.1"/>
<text transform="translate(563.2 792.5) scale(1 1.04)" text-anchor="end">0.9</text>
<path d="M570.1 823.4 H578.3" stroke="#000" stroke-width="2.1"/>
<text transform="translate(563.2 835.7) scale(1 1.04)" text-anchor="end">0.6</text>
<path d="M570.1 866.6 H578.3" stroke="#000" stroke-width="2.1"/>
<text transform="translate(563.2 878.9) scale(1 1.04)" text-anchor="end">0.3</text>
<path d="M570.1 909.8 H578.3" stroke="#000" stroke-width="2.1"/>
<text transform="translate(563.2 922.1) scale(1 1.04)" text-anchor="end">0</text>
<path d="M578.3 909.8 H854.3" stroke="#000" stroke-width="2.1"/>
<text transform="translate(578.3 949.6) scale(1 1.04)" text-anchor="middle">0</text>
<path d="M633.3 909.8 V918" stroke="#000" stroke-width="2.1"/>
<text transform="translate(633.3 949.6) scale(1 1.04)" text-anchor="middle">1</text>
<path d="M688.3 909.8 V918" stroke="#000" stroke-width="2.1"/>
<text transform="translate(688.3 949.6) scale(1 1.04)" text-anchor="middle">2</text>
<path d="M743.3 909.8 V918" stroke="#000" stroke-width="2.1"/>
<text transform="translate(743.3 949.6) scale(1 1.04)" text-anchor="middle">3</text>
<path d="M798.3 909.8 V918" stroke="#000" stroke-width="2.1"/>
<text transform="translate(798.3 949.6) scale(1 1.04)" text-anchor="middle">4</text>
<path d="M853.3 909.8 V918" stroke="#000" stroke-width="2.1"/>
<text transform="translate(853.3 949.6) scale(1 1.04)" text-anchor="middle">5</text>
<text transform="translate(716.1 987) scale(1 1.04)" text-anchor="middle">Delay time <tspan font-style="italic">T</tspan> (s)</text>
<path d="M1025.6 43 V218.1" stroke="#000" stroke-width="2.1" fill="none"/>
<path d="M1017.4 44 H1025.6" stroke="#000" stroke-width="2.1"/>
<text transform="translate(1009.8 56.3) scale(1 1.04)" text-anchor="end">100</text>
<path d="M1017.4 101.7 H1025.6" stroke="#000" stroke-width="2.1"/>
<text transform="translate(1009.8 114) scale(1 1.04)" text-anchor="end">60</text>
<path d="M1017.4 159.3 H1025.6" stroke="#000" stroke-width="2.1"/>
<text transform="translate(1009.8 171.6) scale(1 1.04)" text-anchor="end">20</text>
<path d="M1017.4 217 H1025.6" stroke="#000" stroke-width="2.1"/>
<text transform="translate(1009.8 229.3) scale(1 1.04)" text-anchor="end">−20</text>
<path d="M1025.6 274.3 V449.1" stroke="#000" stroke-width="2.1" fill="none"/>
<path d="M1017.4 275.4 H1025.6" stroke="#000" stroke-width="2.1"/>
<text transform="translate(1009.8 287.7) scale(1 1.04)" text-anchor="end">3</text>
<path d="M1017.4 318.5 H1025.6" stroke="#000" stroke-width="2.1"/>
<text transform="translate(1009.8 330.8) scale(1 1.04)" text-anchor="end">2</text>
<path d="M1017.4 361.7 H1025.6" stroke="#000" stroke-width="2.1"/>
<text transform="translate(1009.8 374) scale(1 1.04)" text-anchor="end">1</text>
<path d="M1017.4 404.9 H1025.6" stroke="#000" stroke-width="2.1"/>
<text transform="translate(1009.8 417.2) scale(1 1.04)" text-anchor="end">0</text>
<path d="M1017.4 448 H1025.6" stroke="#000" stroke-width="2.1"/>
<text transform="translate(1009.8 460.3) scale(1 1.04)" text-anchor="end">−1</text>
<path d="M1025.6 504.9 V680" stroke="#000" stroke-width="2.1" fill="none"/>
<path d="M1017.4 506 H1025.6" stroke="#000" stroke-width="2.1"/>
<text transform="translate(1009.8 518.3) scale(1 1.04)" text-anchor="end">3</text>
<path d="M1017.4 549.2 H1025.6" stroke="#000" stroke-width="2.1"/>
<text transform="translate(1009.8 561.5) scale(1 1.04)" text-anchor="end">2</text>
<path d="M1017.4 592.5 H1025.6" stroke="#000" stroke-width="2.1"/>
<text transform="translate(1009.8 604.8) scale(1 1.04)" text-anchor="end">1</text>
<path d="M1017.4 635.8 H1025.6" stroke="#000" stroke-width="2.1"/>
<text transform="translate(1009.8 648) scale(1 1.04)" text-anchor="end">0</text>
<path d="M1017.4 679 H1025.6" stroke="#000" stroke-width="2.1"/>
<text transform="translate(1009.8 691.3) scale(1 1.04)" text-anchor="end">−1</text>
<path d="M1025.6 736 V918" stroke="#000" stroke-width="2.1" fill="none"/>
<path d="M1017.4 737 H1025.6" stroke="#000" stroke-width="2.1"/>
<text transform="translate(1009.8 749.3) scale(1 1.04)" text-anchor="end">3</text>
<path d="M1017.4 794.6 H1025.6" stroke="#000" stroke-width="2.1"/>
<text transform="translate(1009.8 806.9) scale(1 1.04)" text-anchor="end">2</text>
<path d="M1017.4 852.2 H1025.6" stroke="#000" stroke-width="2.1"/>
<text transform="translate(1009.8 864.5) scale(1 1.04)" text-anchor="end">1</text>
<path d="M1017.4 909.8 H1025.6" stroke="#000" stroke-width="2.1"/>
<text transform="translate(1009.8 922.1) scale(1 1.04)" text-anchor="end">0</text>
<path d="M1025.6 909.8 H1301.6" stroke="#000" stroke-width="2.1"/>
<text transform="translate(1025.6 949.6) scale(1 1.04)" text-anchor="middle">0</text>
<path d="M1080.6 909.8 V918" stroke="#000" stroke-width="2.1"/>
<text transform="translate(1080.6 949.6) scale(1 1.04)" text-anchor="middle">1</text>
<path d="M1135.6 909.8 V918" stroke="#000" stroke-width="2.1"/>
<text transform="translate(1135.6 949.6) scale(1 1.04)" text-anchor="middle">2</text>
<path d="M1190.6 909.8 V918" stroke="#000" stroke-width="2.1"/>
<text transform="translate(1190.6 949.6) scale(1 1.04)" text-anchor="middle">3</text>
<path d="M1245.6 909.8 V918" stroke="#000" stroke-width="2.1"/>
<text transform="translate(1245.6 949.6) scale(1 1.04)" text-anchor="middle">4</text>
<path d="M1300.6 909.8 V918" stroke="#000" stroke-width="2.1"/>
<text transform="translate(1300.6 949.6) scale(1 1.04)" text-anchor="middle">5</text>
<text transform="translate(1163.4 987) scale(1 1.04)" text-anchor="middle">Delay time <tspan font-style="italic">T</tspan> (s)</text>
</g>
<text x="0" y="30.7" font-size="43.5" font-weight="bold">A</text>
<text x="449.1" y="30.7" font-size="43.5" font-weight="bold">B</text>
<text x="887" y="30.7" font-size="43.5" font-weight="bold">C</text>
<text transform="translate(218.5 54.3) scale(1.2 1) skewX(-8)" font-family="'Liberation Serif', 'DejaVu Serif', serif" font-style="italic" font-size="35.5" stroke="none">τ</text>
<text transform="translate(241.8 54.5) scale(1 1.04)">= 1.088 s</text>
<text transform="translate(620.5 54.3) scale(1.2 1) skewX(-8)" font-family="'Liberation Serif', 'DejaVu Serif', serif" font-style="italic" font-size="35.5" stroke="none">τ</text>
<text transform="translate(643.8 54.5) scale(1 1.04)">= 4.087 s</text>
<text transform="translate(1135 54.3) scale(1.2 1) skewX(-8)" font-family="'Liberation Serif', 'DejaVu Serif', serif" font-style="italic" font-size="35.5" stroke="none">τ</text>
<text transform="translate(1158.4 54.5) scale(1 1.04)">= 1. 734 s</text>
<text transform="translate(57 129.6) rotate(-90) scale(1 1.04)" text-anchor="middle"><tspan font-style="italic">FP</tspan> (%)</text>
<text transform="translate(35.2 360.7) rotate(-90) scale(1 1.04)" text-anchor="middle"><tspan font-style="italic">AIC</tspan></text>
<text transform="translate(75.8 361.2) rotate(-90) scale(1 1.04)" text-anchor="middle">(<tspan dx="1.5">×</tspan>1<tspan dx="1">0</tspan><tspan font-size="20.5" dy="-10.5" dx="1.2">5</tspan><tspan dy="10.5" dx="-0.8"> a.</tspan><tspan dx="1">u</tspan><tspan dx="0.4">.</tspan><tspan dx="0.3">)</tspan></text>
<text transform="translate(35.2 591.3) rotate(-90) scale(1 1.04)" text-anchor="middle"><tspan font-style="italic">BIC</tspan></text>
<text transform="translate(75.8 591.8) rotate(-90) scale(1 1.04)" text-anchor="middle">(<tspan dx="1.5">×</tspan>1<tspan dx="1">0</tspan><tspan font-size="20.5" dy="-10.5" dx="1.2">5</tspan><tspan dy="10.5" dx="-0.8"> a.</tspan><tspan dx="1">u</tspan><tspan dx="0.4">.</tspan><tspan dx="0.3">)</tspan></text>
<text transform="translate(57 822.7) rotate(-90) scale(1 1.04)" text-anchor="middle"><tspan font-style="italic">MSE</tspan> (a.u.)</text>
</svg>
</body></html>
